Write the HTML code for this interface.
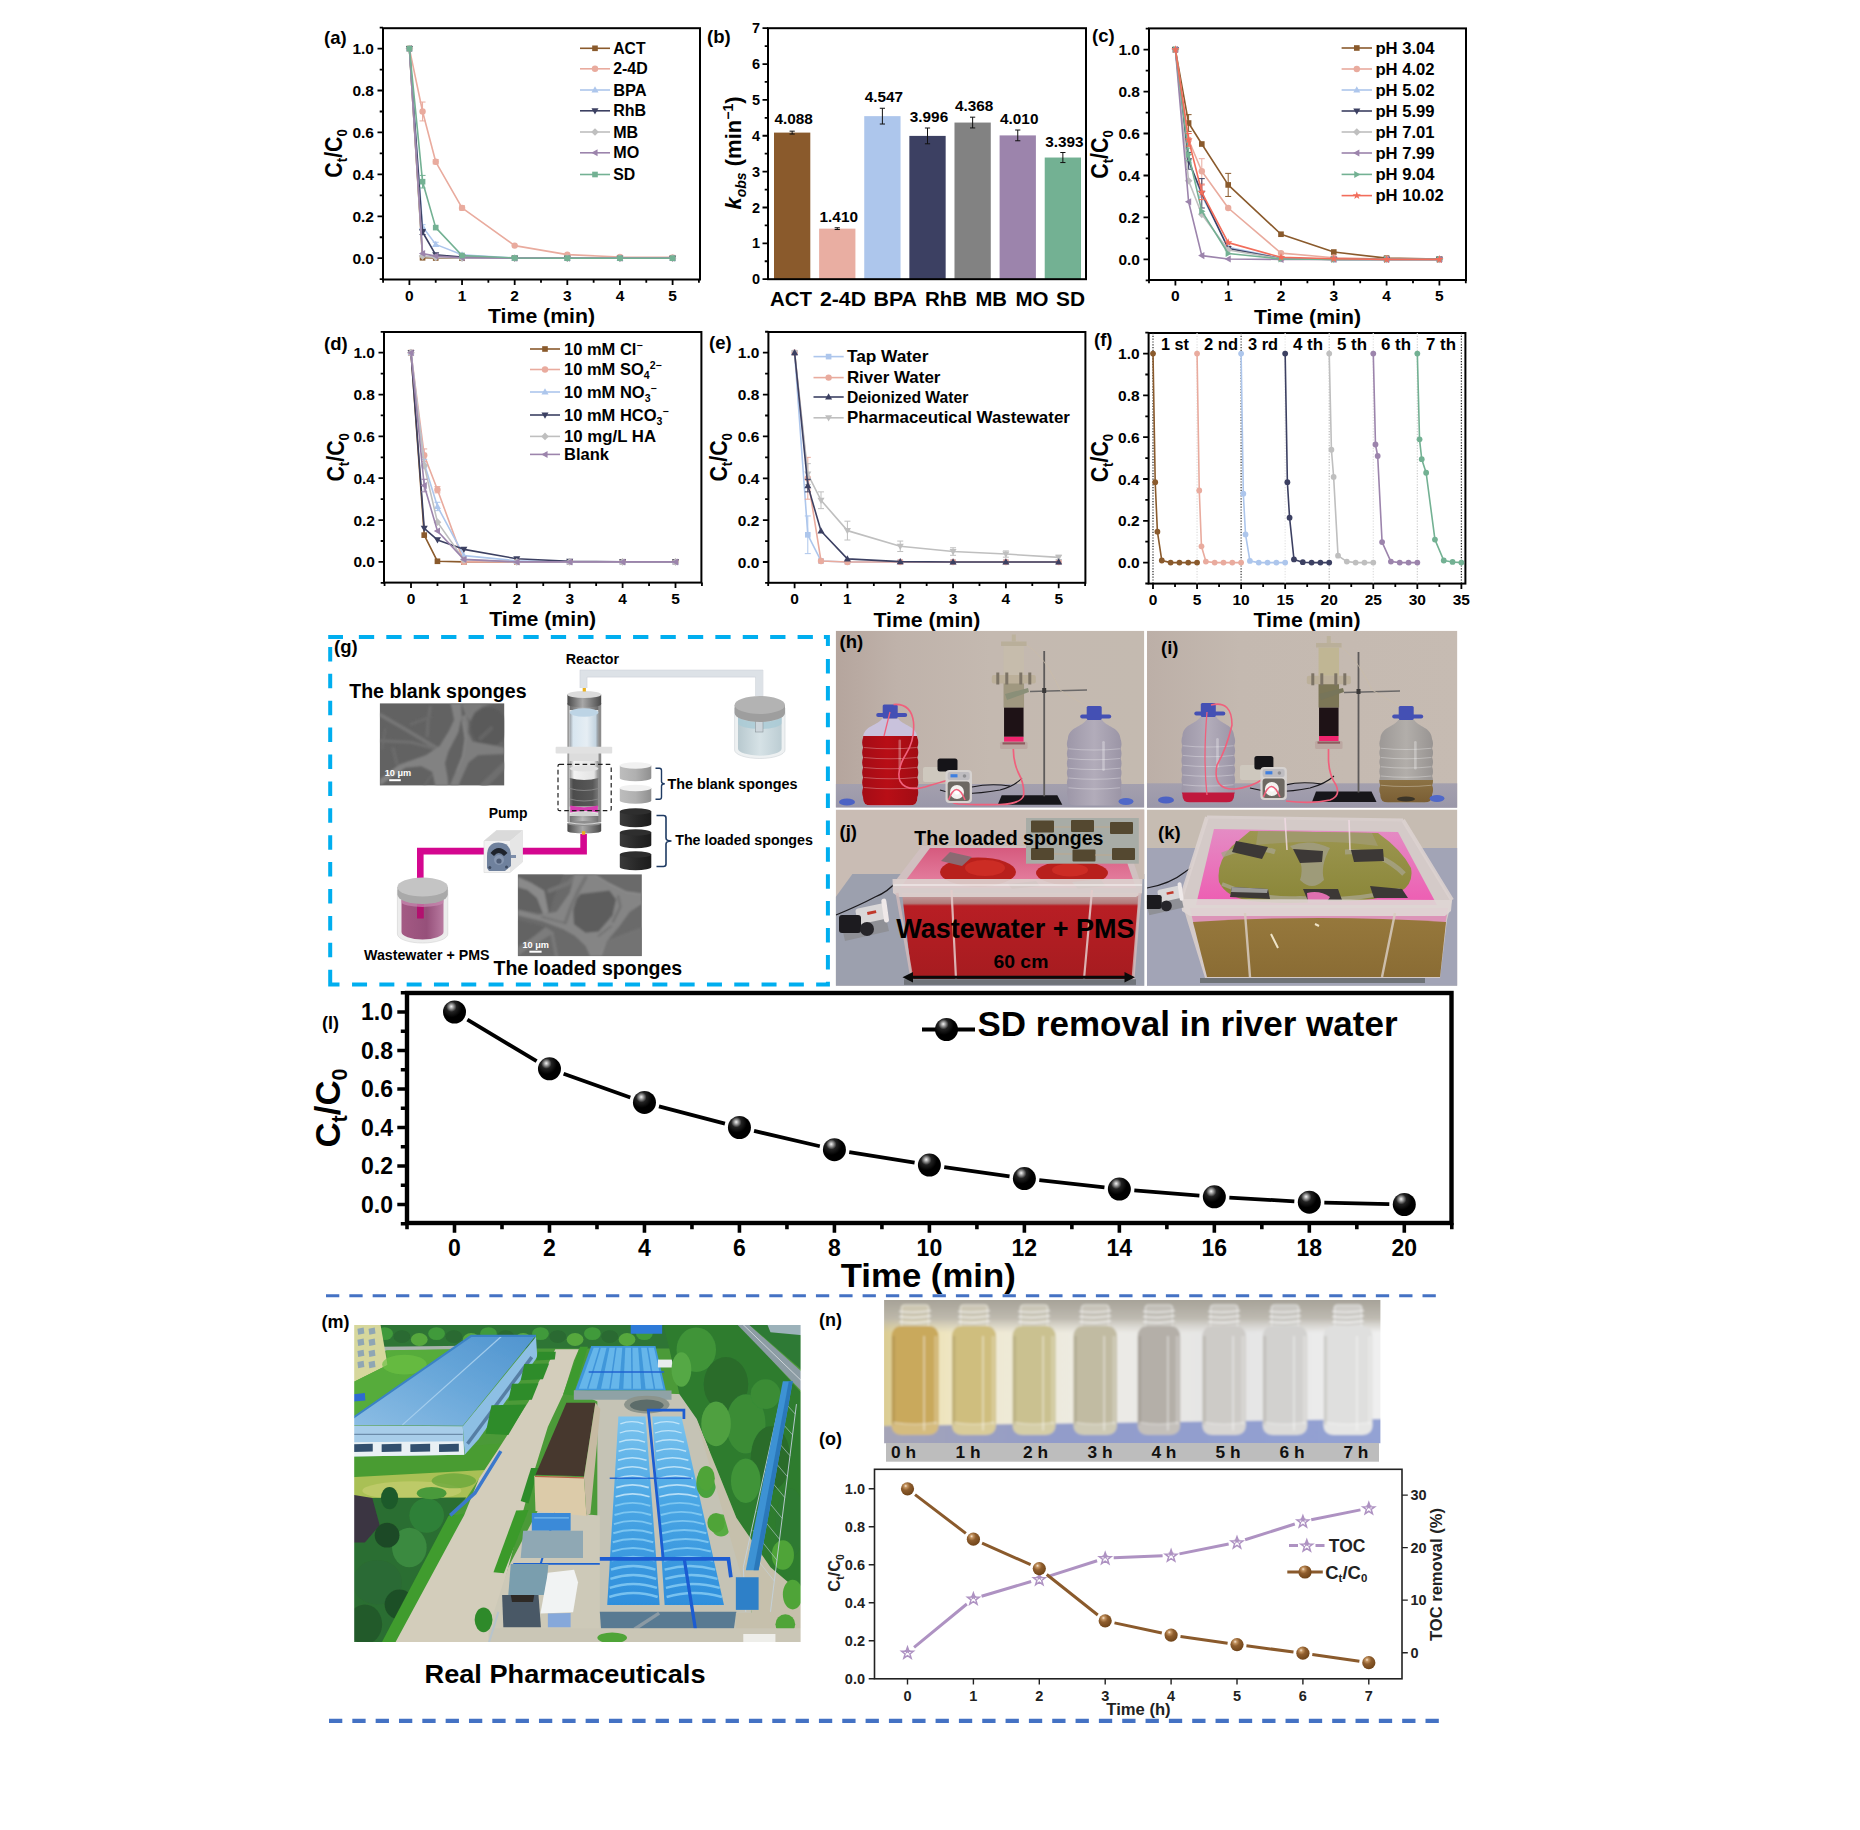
<!DOCTYPE html>
<html><head><meta charset="utf-8"><title>Figure</title>
<style>
html,body{margin:0;padding:0;background:#fff}
svg{display:block}
svg text{font-family:"Liberation Sans", Arial, sans-serif;font-weight:bold}
</style></head><body>
<svg xmlns="http://www.w3.org/2000/svg" width="1860" height="1830" viewBox="0 0 1860 1830">
<rect width="1860" height="1830" fill="#fff"/>
<rect x="383" y="28.2" width="317" height="251.3" fill="none" stroke="#000" stroke-width="2"/>
<path d="M409.4 279.5v5.5M462.04 279.5v5.5M514.68 279.5v5.5M567.32 279.5v5.5M619.96 279.5v5.5M672.6 279.5v5.5M383.08 279.5v3.3M435.72 279.5v3.3M488.36 279.5v3.3M541 279.5v3.3M593.64 279.5v3.3M646.28 279.5v3.3M698.92 279.5v3.3" stroke="#000" stroke-width="1.8" fill="none"/>
<g font-size="15.5" text-anchor="middle"><text x="409.4" y="300.8">0</text><text x="462.04" y="300.8">1</text><text x="514.68" y="300.8">2</text><text x="567.32" y="300.8">3</text><text x="619.96" y="300.8">4</text><text x="672.6" y="300.8">5</text></g>
<path d="M383 258.2h-5.5M383 216.28h-5.5M383 174.36h-5.5M383 132.44h-5.5M383 90.52h-5.5M383 48.6h-5.5M383 279.16h-3.3M383 237.24h-3.3M383 195.32h-3.3M383 153.4h-3.3M383 111.48h-3.3M383 69.56h-3.3M383 27.64h-3.3" stroke="#000" stroke-width="1.8" fill="none"/>
<g font-size="15.5" text-anchor="end"><text x="374" y="263.7">0.0</text><text x="374" y="221.78">0.2</text><text x="374" y="179.86">0.4</text><text x="374" y="137.94">0.6</text><text x="374" y="96.02">0.8</text><text x="374" y="54.1">1.0</text></g>
<text x="541.5" y="323.2" font-size="21" text-anchor="middle" textLength="107" lengthAdjust="spacingAndGlyphs">Time (min)</text>
<text x="0" y="0" font-size="23.5" text-anchor="middle" textLength="48.5" lengthAdjust="spacingAndGlyphs" transform="translate(341.5 153.4) rotate(-90)">C<tspan dy="5.17" font-size="14.57">t</tspan><tspan dy="-5.17">/C</tspan><tspan dy="5.17" font-size="14.57">0</tspan></text>
<polyline points="409.4,48.6 422.56,257.78 435.72,257.99 462.04,258.2 514.68,258.2 567.32,258.2 619.96,258.2 672.6,258.2" fill="none" stroke="#8A5A2C" stroke-width="1.6" stroke-linejoin="round"/><rect x="406.58" y="45.78" width="5.63" height="5.63" fill="#8A5A2C"/><rect x="419.74" y="254.96" width="5.63" height="5.63" fill="#8A5A2C"/><rect x="432.9" y="255.17" width="5.63" height="5.63" fill="#8A5A2C"/><rect x="459.22" y="255.38" width="5.63" height="5.63" fill="#8A5A2C"/><rect x="511.86" y="255.38" width="5.63" height="5.63" fill="#8A5A2C"/><rect x="564.5" y="255.38" width="5.63" height="5.63" fill="#8A5A2C"/><rect x="617.14" y="255.38" width="5.63" height="5.63" fill="#8A5A2C"/><rect x="669.78" y="255.38" width="5.63" height="5.63" fill="#8A5A2C"/>
<polyline points="409.4,48.6 422.56,111.48 435.72,161.78 462.04,207.9 514.68,245.62 567.32,254.64 619.96,256.94 672.6,257.36" fill="none" stroke="#E9AB9E" stroke-width="1.6" stroke-linejoin="round"/><path d="M422.56 102.05V120.91M419.56 102.05H425.56M419.56 120.91H425.56" stroke="#E9AB9E" stroke-width="1" fill="none"/><path d="M435.72 159.69V163.88M432.72 159.69H438.72M432.72 163.88H438.72" stroke="#E9AB9E" stroke-width="1" fill="none"/><path d="M462.04 205.8V209.99M459.04 205.8H465.04M459.04 209.99H465.04" stroke="#E9AB9E" stroke-width="1" fill="none"/><circle cx="409.4" cy="48.6" r="3.2" fill="#E9AB9E"/><circle cx="422.56" cy="111.48" r="3.2" fill="#E9AB9E"/><circle cx="435.72" cy="161.78" r="3.2" fill="#E9AB9E"/><circle cx="462.04" cy="207.9" r="3.2" fill="#E9AB9E"/><circle cx="514.68" cy="245.62" r="3.2" fill="#E9AB9E"/><circle cx="567.32" cy="254.64" r="3.2" fill="#E9AB9E"/><circle cx="619.96" cy="256.94" r="3.2" fill="#E9AB9E"/><circle cx="672.6" cy="257.36" r="3.2" fill="#E9AB9E"/>
<polyline points="409.4,48.6 422.56,226.76 435.72,244.37 462.04,254.85 514.68,258.2 567.32,258.2 619.96,258.2 672.6,258.2" fill="none" stroke="#ADC6EC" stroke-width="1.6" stroke-linejoin="round"/><path d="M422.56 224.66V228.86M419.56 224.66H425.56M419.56 228.86H425.56" stroke="#ADC6EC" stroke-width="1" fill="none"/><path d="M435.72 242.27V246.46M432.72 242.27H438.72M432.72 246.46H438.72" stroke="#ADC6EC" stroke-width="1" fill="none"/><polygon points="409.4,44.92 412.92,51.16 405.88,51.16" fill="#ADC6EC"/><polygon points="422.56,223.08 426.08,229.32 419.04,229.32" fill="#ADC6EC"/><polygon points="435.72,240.69 439.24,246.93 432.2,246.93" fill="#ADC6EC"/><polygon points="462.04,251.17 465.56,257.41 458.52,257.41" fill="#ADC6EC"/><polygon points="514.68,254.52 518.2,260.76 511.16,260.76" fill="#ADC6EC"/><polygon points="567.32,254.52 570.84,260.76 563.8,260.76" fill="#ADC6EC"/><polygon points="619.96,254.52 623.48,260.76 616.44,260.76" fill="#ADC6EC"/><polygon points="672.6,254.52 676.12,260.76 669.08,260.76" fill="#ADC6EC"/>
<polyline points="409.4,48.6 422.56,232 435.72,254.85 462.04,257.15 514.68,258.2 567.32,258.2 619.96,258.2 672.6,258.2" fill="none" stroke="#3C4062" stroke-width="1.6" stroke-linejoin="round"/><path d="M422.56 229.48V234.52M419.56 229.48H425.56M419.56 234.52H425.56" stroke="#3C4062" stroke-width="1" fill="none"/><polygon points="409.4,52.28 412.92,46.04 405.88,46.04" fill="#3C4062"/><polygon points="422.56,235.68 426.08,229.44 419.04,229.44" fill="#3C4062"/><polygon points="435.72,258.53 439.24,252.29 432.2,252.29" fill="#3C4062"/><polygon points="462.04,260.83 465.56,254.59 458.52,254.59" fill="#3C4062"/><polygon points="514.68,261.88 518.2,255.64 511.16,255.64" fill="#3C4062"/><polygon points="567.32,261.88 570.84,255.64 563.8,255.64" fill="#3C4062"/><polygon points="619.96,261.88 623.48,255.64 616.44,255.64" fill="#3C4062"/><polygon points="672.6,261.88 676.12,255.64 669.08,255.64" fill="#3C4062"/>
<polyline points="409.4,48.6 422.56,256.1 435.72,257.36 462.04,258.2 514.68,258.2 567.32,258.2 619.96,258.2 672.6,258.2" fill="none" stroke="#BFBFBF" stroke-width="1.6" stroke-linejoin="round"/><polygon points="409.4,44.76 413.24,48.6 409.4,52.44 405.56,48.6" fill="#BFBFBF"/><polygon points="422.56,252.26 426.4,256.1 422.56,259.94 418.72,256.1" fill="#BFBFBF"/><polygon points="435.72,253.52 439.56,257.36 435.72,261.2 431.88,257.36" fill="#BFBFBF"/><polygon points="462.04,254.36 465.88,258.2 462.04,262.04 458.2,258.2" fill="#BFBFBF"/><polygon points="514.68,254.36 518.52,258.2 514.68,262.04 510.84,258.2" fill="#BFBFBF"/><polygon points="567.32,254.36 571.16,258.2 567.32,262.04 563.48,258.2" fill="#BFBFBF"/><polygon points="619.96,254.36 623.8,258.2 619.96,262.04 616.12,258.2" fill="#BFBFBF"/><polygon points="672.6,254.36 676.44,258.2 672.6,262.04 668.76,258.2" fill="#BFBFBF"/>
<polyline points="409.4,48.6 422.56,253.59 435.72,256.1 462.04,257.78 514.68,258.2 567.32,258.2 619.96,258.2 672.6,258.2" fill="none" stroke="#9C84AC" stroke-width="1.6" stroke-linejoin="round"/><polygon points="405.72,48.6 411.96,45.08 411.96,52.12" fill="#9C84AC"/><polygon points="418.88,253.59 425.12,250.07 425.12,257.11" fill="#9C84AC"/><polygon points="432.04,256.1 438.28,252.58 438.28,259.62" fill="#9C84AC"/><polygon points="458.36,257.78 464.6,254.26 464.6,261.3" fill="#9C84AC"/><polygon points="511,258.2 517.24,254.68 517.24,261.72" fill="#9C84AC"/><polygon points="563.64,258.2 569.88,254.68 569.88,261.72" fill="#9C84AC"/><polygon points="616.28,258.2 622.52,254.68 622.52,261.72" fill="#9C84AC"/><polygon points="668.92,258.2 675.16,254.68 675.16,261.72" fill="#9C84AC"/>
<polyline points="409.4,48.6 422.56,181.7 435.72,227.6 462.04,255.48 514.68,257.99 567.32,258.2 619.96,258.2 672.6,258.2" fill="none" stroke="#73B193" stroke-width="1.6" stroke-linejoin="round"/><path d="M422.56 175.41V187.98M419.56 175.41H425.56M419.56 187.98H425.56" stroke="#73B193" stroke-width="1" fill="none"/><rect x="406.58" y="45.78" width="5.63" height="5.63" fill="#73B193"/><rect x="419.74" y="178.88" width="5.63" height="5.63" fill="#73B193"/><rect x="432.9" y="224.78" width="5.63" height="5.63" fill="#73B193"/><rect x="459.22" y="252.66" width="5.63" height="5.63" fill="#73B193"/><rect x="511.86" y="255.17" width="5.63" height="5.63" fill="#73B193"/><rect x="564.5" y="255.38" width="5.63" height="5.63" fill="#73B193"/><rect x="617.14" y="255.38" width="5.63" height="5.63" fill="#73B193"/><rect x="669.78" y="255.38" width="5.63" height="5.63" fill="#73B193"/>
<g font-size="16.5"><path d="M580 48.3H610" stroke="#8A5A2C" stroke-width="1.6"/><rect x="592.18" y="45.48" width="5.63" height="5.63" fill="#8A5A2C"/><text x="613.2" y="53.83" textLength="32.3" lengthAdjust="spacingAndGlyphs">ACT</text><path d="M580 68.8H610" stroke="#E9AB9E" stroke-width="1.6"/><circle cx="595" cy="68.8" r="3.2" fill="#E9AB9E"/><text x="613.2" y="74.33" textLength="34.5" lengthAdjust="spacingAndGlyphs">2-4D</text><path d="M580 90H610" stroke="#ADC6EC" stroke-width="1.6"/><polygon points="595,86.32 598.52,92.56 591.48,92.56" fill="#ADC6EC"/><text x="613.2" y="95.53" textLength="33.5" lengthAdjust="spacingAndGlyphs">BPA</text><path d="M580 110.8H610" stroke="#3C4062" stroke-width="1.6"/><polygon points="595,114.48 598.52,108.24 591.48,108.24" fill="#3C4062"/><text x="613.2" y="116.33" textLength="33" lengthAdjust="spacingAndGlyphs">RhB</text><path d="M580 132H610" stroke="#BFBFBF" stroke-width="1.6"/><polygon points="595,128.16 598.84,132 595,135.84 591.16,132" fill="#BFBFBF"/><text x="613.2" y="137.53" textLength="25" lengthAdjust="spacingAndGlyphs">MB</text><path d="M580 152.8H610" stroke="#9C84AC" stroke-width="1.6"/><polygon points="591.32,152.8 597.56,149.28 597.56,156.32" fill="#9C84AC"/><text x="613.2" y="158.33" textLength="26" lengthAdjust="spacingAndGlyphs">MO</text><path d="M580 174.5H610" stroke="#73B193" stroke-width="1.6"/><rect x="592.18" y="171.68" width="5.63" height="5.63" fill="#73B193"/><text x="613.2" y="180.03" textLength="22" lengthAdjust="spacingAndGlyphs">SD</text></g>
<text x="324" y="44" font-size="18.5">(a)</text>
<rect x="774" y="132.6" width="36.3" height="146.6" fill="#8A5A2C"/><path d="M792.15 131.17V134.04M789.55 131.17H794.75M789.55 134.04H794.75" stroke="#111" stroke-width="1" fill="none"/><text x="793.65" y="124.17" font-size="15" text-anchor="middle" textLength="38.4" lengthAdjust="spacingAndGlyphs">4.088</text><rect x="819.12" y="228.64" width="36.3" height="50.56" fill="#E9AEA2"/><path d="M837.27 227.74V229.53M834.67 227.74H839.87M834.67 229.53H839.87" stroke="#111" stroke-width="1" fill="none"/><text x="838.77" y="221.74" font-size="15" text-anchor="middle" textLength="38.4" lengthAdjust="spacingAndGlyphs">1.410</text><rect x="864.24" y="116.14" width="36.3" height="163.06" fill="#ADC6EC"/><path d="M882.39 108.26V124.03M879.79 108.26H884.99M879.79 124.03H884.99" stroke="#111" stroke-width="1" fill="none"/><text x="883.89" y="102.26" font-size="15" text-anchor="middle" textLength="38.4" lengthAdjust="spacingAndGlyphs">4.547</text><rect x="909.36" y="135.9" width="36.3" height="143.3" fill="#3C4062"/><path d="M927.51 128.01V143.79M924.91 128.01H930.11M924.91 143.79H930.11" stroke="#111" stroke-width="1" fill="none"/><text x="929.01" y="122.01" font-size="15" text-anchor="middle" textLength="38.4" lengthAdjust="spacingAndGlyphs">3.996</text><rect x="954.48" y="122.56" width="36.3" height="156.64" fill="#828282"/><path d="M972.63 117.18V127.94M970.03 117.18H975.23M970.03 127.94H975.23" stroke="#111" stroke-width="1" fill="none"/><text x="974.13" y="111.18" font-size="15" text-anchor="middle" textLength="38.4" lengthAdjust="spacingAndGlyphs">4.368</text><rect x="999.6" y="135.4" width="36.3" height="143.8" fill="#9C84AC"/><path d="M1017.75 130.02V140.78M1015.15 130.02H1020.35M1015.15 140.78H1020.35" stroke="#111" stroke-width="1" fill="none"/><text x="1019.25" y="124.02" font-size="15" text-anchor="middle" textLength="38.4" lengthAdjust="spacingAndGlyphs">4.010</text><rect x="1044.72" y="157.53" width="36.3" height="121.67" fill="#73B193"/><path d="M1062.87 152.51V162.55M1060.27 152.51H1065.47M1060.27 162.55H1065.47" stroke="#111" stroke-width="1" fill="none"/><text x="1064.37" y="146.51" font-size="15" text-anchor="middle" textLength="38.4" lengthAdjust="spacingAndGlyphs">3.393</text>
<rect x="768" y="28.2" width="318" height="251" fill="none" stroke="#000" stroke-width="2"/>
<path d="M768 279.2h-5.5M768 243.34h-5.5M768 207.48h-5.5M768 171.62h-5.5M768 135.76h-5.5M768 99.9h-5.5M768 64.04h-5.5M768 28.18h-5.5M768 261.27h-3.3M768 225.41h-3.3M768 189.55h-3.3M768 153.69h-3.3M768 117.83h-3.3M768 81.97h-3.3M768 46.11h-3.3" stroke="#000" stroke-width="1.8" fill="none"/>
<g font-size="14.5" text-anchor="end"><text x="760" y="284.35">0</text><text x="760" y="248.49">1</text><text x="760" y="212.63">2</text><text x="760" y="176.77">3</text><text x="760" y="140.91">4</text><text x="760" y="105.05">5</text><text x="760" y="69.19">6</text><text x="760" y="33.33">7</text></g>
<g font-size="20.5"><text x="770" y="305.6" textLength="42" lengthAdjust="spacingAndGlyphs">ACT</text><text x="820" y="305.6" textLength="46" lengthAdjust="spacingAndGlyphs">2-4D</text><text x="873.5" y="305.6" textLength="43.5" lengthAdjust="spacingAndGlyphs">BPA</text><text x="925" y="305.6" textLength="42" lengthAdjust="spacingAndGlyphs">RhB</text><text x="975.5" y="305.6" textLength="31.5" lengthAdjust="spacingAndGlyphs">MB</text><text x="1015.5" y="305.6" textLength="33" lengthAdjust="spacingAndGlyphs">MO</text><text x="1056" y="305.6" textLength="29" lengthAdjust="spacingAndGlyphs">SD</text></g>
<text x="0" y="0" font-size="22" text-anchor="middle" transform="translate(741 153) rotate(-90)"><tspan font-style="italic">k</tspan><tspan dy="5" font-size="14" font-style="italic">obs</tspan><tspan dy="-5"> (min</tspan><tspan dy="-8" font-size="14">−1</tspan><tspan dy="8">)</tspan></text>
<text x="707" y="43" font-size="18.5">(b)</text>
<rect x="1149" y="28.4" width="317" height="251.6" fill="none" stroke="#000" stroke-width="2"/>
<path d="M1175.4 280v5.5M1228.2 280v5.5M1281 280v5.5M1333.8 280v5.5M1386.6 280v5.5M1439.4 280v5.5M1149 280v3.3M1201.8 280v3.3M1254.6 280v3.3M1307.4 280v3.3M1360.2 280v3.3M1413 280v3.3M1465.8 280v3.3" stroke="#000" stroke-width="1.8" fill="none"/>
<g font-size="15.5" text-anchor="middle"><text x="1175.4" y="301.3">0</text><text x="1228.2" y="301.3">1</text><text x="1281" y="301.3">2</text><text x="1333.8" y="301.3">3</text><text x="1386.6" y="301.3">4</text><text x="1439.4" y="301.3">5</text></g>
<path d="M1149 259.4h-5.5M1149 217.44h-5.5M1149 175.48h-5.5M1149 133.52h-5.5M1149 91.56h-5.5M1149 49.6h-5.5M1149 280.38h-3.3M1149 238.42h-3.3M1149 196.46h-3.3M1149 154.5h-3.3M1149 112.54h-3.3M1149 70.58h-3.3M1149 28.62h-3.3" stroke="#000" stroke-width="1.8" fill="none"/>
<g font-size="15.5" text-anchor="end"><text x="1140" y="264.9">0.0</text><text x="1140" y="222.94">0.2</text><text x="1140" y="180.98">0.4</text><text x="1140" y="139.02">0.6</text><text x="1140" y="97.06">0.8</text><text x="1140" y="55.1">1.0</text></g>
<text x="1307.5" y="323.7" font-size="21" text-anchor="middle" textLength="107" lengthAdjust="spacingAndGlyphs">Time (min)</text>
<text x="0" y="0" font-size="23.5" text-anchor="middle" textLength="48.5" lengthAdjust="spacingAndGlyphs" transform="translate(1107.5 154.5) rotate(-90)">C<tspan dy="5.17" font-size="14.57">t</tspan><tspan dy="-5.17">/C</tspan><tspan dy="5.17" font-size="14.57">0</tspan></text>
<polyline points="1175.4,49.6 1188.6,123.03 1201.8,144.01 1228.2,184.92 1281,234.22 1333.8,252.06 1386.6,258.14 1439.4,258.98" fill="none" stroke="#8A5A2C" stroke-width="1.6" stroke-linejoin="round"/><path d="M1188.6 114.64V131.42M1185.6 114.64H1191.6M1185.6 131.42H1191.6" stroke="#8A5A2C" stroke-width="1" fill="none"/><path d="M1228.2 173.38V196.46M1225.2 173.38H1231.2M1225.2 196.46H1231.2" stroke="#8A5A2C" stroke-width="1" fill="none"/><rect x="1172.58" y="46.78" width="5.63" height="5.63" fill="#8A5A2C"/><rect x="1185.78" y="120.21" width="5.63" height="5.63" fill="#8A5A2C"/><rect x="1198.98" y="141.19" width="5.63" height="5.63" fill="#8A5A2C"/><rect x="1225.38" y="182.1" width="5.63" height="5.63" fill="#8A5A2C"/><rect x="1278.18" y="231.41" width="5.63" height="5.63" fill="#8A5A2C"/><rect x="1330.98" y="249.24" width="5.63" height="5.63" fill="#8A5A2C"/><rect x="1383.78" y="255.33" width="5.63" height="5.63" fill="#8A5A2C"/><rect x="1436.58" y="256.16" width="5.63" height="5.63" fill="#8A5A2C"/>
<polyline points="1175.4,49.6 1188.6,139.81 1201.8,171.28 1228.2,208 1281,253.11 1333.8,257.72 1386.6,258.98 1439.4,259.4" fill="none" stroke="#E9AB9E" stroke-width="1.6" stroke-linejoin="round"/><path d="M1188.6 133.52V146.11M1185.6 133.52H1191.6M1185.6 146.11H1191.6" stroke="#E9AB9E" stroke-width="1" fill="none"/><path d="M1201.8 158.7V183.87M1198.8 158.7H1204.8M1198.8 183.87H1204.8" stroke="#E9AB9E" stroke-width="1" fill="none"/><circle cx="1175.4" cy="49.6" r="3.2" fill="#E9AB9E"/><circle cx="1188.6" cy="139.81" r="3.2" fill="#E9AB9E"/><circle cx="1201.8" cy="171.28" r="3.2" fill="#E9AB9E"/><circle cx="1228.2" cy="208" r="3.2" fill="#E9AB9E"/><circle cx="1281" cy="253.11" r="3.2" fill="#E9AB9E"/><circle cx="1333.8" cy="257.72" r="3.2" fill="#E9AB9E"/><circle cx="1386.6" cy="258.98" r="3.2" fill="#E9AB9E"/><circle cx="1439.4" cy="259.4" r="3.2" fill="#E9AB9E"/>
<polyline points="1175.4,49.6 1188.6,160.79 1201.8,195.41 1228.2,247.23 1281,258.14 1333.8,259.4 1386.6,259.4 1439.4,259.4" fill="none" stroke="#ADC6EC" stroke-width="1.6" stroke-linejoin="round"/><path d="M1188.6 154.5V167.09M1185.6 154.5H1191.6M1185.6 167.09H1191.6" stroke="#ADC6EC" stroke-width="1" fill="none"/><polygon points="1175.4,45.92 1178.92,52.16 1171.88,52.16" fill="#ADC6EC"/><polygon points="1188.6,157.11 1192.12,163.35 1185.08,163.35" fill="#ADC6EC"/><polygon points="1201.8,191.73 1205.32,197.97 1198.28,197.97" fill="#ADC6EC"/><polygon points="1228.2,243.55 1231.72,249.79 1224.68,249.79" fill="#ADC6EC"/><polygon points="1281,254.46 1284.52,260.7 1277.48,260.7" fill="#ADC6EC"/><polygon points="1333.8,255.72 1337.32,261.96 1330.28,261.96" fill="#ADC6EC"/><polygon points="1386.6,255.72 1390.12,261.96 1383.08,261.96" fill="#ADC6EC"/><polygon points="1439.4,255.72 1442.92,261.96 1435.88,261.96" fill="#ADC6EC"/>
<polyline points="1175.4,49.6 1188.6,160.79 1201.8,193.31 1228.2,248.49 1281,258.56 1333.8,259.4 1386.6,259.4 1439.4,259.4" fill="none" stroke="#3C4062" stroke-width="1.6" stroke-linejoin="round"/><path d="M1188.6 152.4V169.19M1185.6 152.4H1191.6M1185.6 169.19H1191.6" stroke="#3C4062" stroke-width="1" fill="none"/><path d="M1201.8 178.63V208M1198.8 178.63H1204.8M1198.8 208H1204.8" stroke="#3C4062" stroke-width="1" fill="none"/><polygon points="1175.4,53.28 1178.92,47.04 1171.88,47.04" fill="#3C4062"/><polygon points="1188.6,164.47 1192.12,158.23 1185.08,158.23" fill="#3C4062"/><polygon points="1201.8,196.99 1205.32,190.75 1198.28,190.75" fill="#3C4062"/><polygon points="1228.2,252.17 1231.72,245.93 1224.68,245.93" fill="#3C4062"/><polygon points="1281,262.24 1284.52,256 1277.48,256" fill="#3C4062"/><polygon points="1333.8,263.08 1337.32,256.84 1330.28,256.84" fill="#3C4062"/><polygon points="1386.6,263.08 1390.12,256.84 1383.08,256.84" fill="#3C4062"/><polygon points="1439.4,263.08 1442.92,256.84 1435.88,256.84" fill="#3C4062"/>
<polyline points="1175.4,49.6 1188.6,180.72 1201.8,214.29 1228.2,249.96 1281,258.77 1333.8,259.4 1386.6,259.4 1439.4,259.4" fill="none" stroke="#BFBFBF" stroke-width="1.6" stroke-linejoin="round"/><polygon points="1175.4,45.76 1179.24,49.6 1175.4,53.44 1171.56,49.6" fill="#BFBFBF"/><polygon points="1188.6,176.88 1192.44,180.72 1188.6,184.56 1184.76,180.72" fill="#BFBFBF"/><polygon points="1201.8,210.45 1205.64,214.29 1201.8,218.13 1197.96,214.29" fill="#BFBFBF"/><polygon points="1228.2,246.12 1232.04,249.96 1228.2,253.8 1224.36,249.96" fill="#BFBFBF"/><polygon points="1281,254.93 1284.84,258.77 1281,262.61 1277.16,258.77" fill="#BFBFBF"/><polygon points="1333.8,255.56 1337.64,259.4 1333.8,263.24 1329.96,259.4" fill="#BFBFBF"/><polygon points="1386.6,255.56 1390.44,259.4 1386.6,263.24 1382.76,259.4" fill="#BFBFBF"/><polygon points="1439.4,255.56 1443.24,259.4 1439.4,263.24 1435.56,259.4" fill="#BFBFBF"/>
<polyline points="1175.4,49.6 1188.6,201.7 1201.8,255.62 1228.2,258.98 1281,259.4 1333.8,259.4 1386.6,259.4 1439.4,259.4" fill="none" stroke="#9C84AC" stroke-width="1.6" stroke-linejoin="round"/><polygon points="1171.72,49.6 1177.96,46.08 1177.96,53.12" fill="#9C84AC"/><polygon points="1184.92,201.7 1191.16,198.18 1191.16,205.22" fill="#9C84AC"/><polygon points="1198.12,255.62 1204.36,252.1 1204.36,259.14" fill="#9C84AC"/><polygon points="1224.52,258.98 1230.76,255.46 1230.76,262.5" fill="#9C84AC"/><polygon points="1277.32,259.4 1283.56,255.88 1283.56,262.92" fill="#9C84AC"/><polygon points="1330.12,259.4 1336.36,255.88 1336.36,262.92" fill="#9C84AC"/><polygon points="1382.92,259.4 1389.16,255.88 1389.16,262.92" fill="#9C84AC"/><polygon points="1435.72,259.4 1441.96,255.88 1441.96,262.92" fill="#9C84AC"/>
<polyline points="1175.4,49.6 1188.6,154.5 1201.8,211.15 1228.2,253.53 1281,258.98 1333.8,259.4 1386.6,259.4 1439.4,259.4" fill="none" stroke="#73B193" stroke-width="1.6" stroke-linejoin="round"/><path d="M1188.6 148.21V160.79M1185.6 148.21H1191.6M1185.6 160.79H1191.6" stroke="#73B193" stroke-width="1" fill="none"/><polygon points="1179.08,49.6 1172.84,46.08 1172.84,53.12" fill="#73B193"/><polygon points="1192.28,154.5 1186.04,150.98 1186.04,158.02" fill="#73B193"/><polygon points="1205.48,211.15 1199.24,207.63 1199.24,214.67" fill="#73B193"/><polygon points="1231.88,253.53 1225.64,250.01 1225.64,257.05" fill="#73B193"/><polygon points="1284.68,258.98 1278.44,255.46 1278.44,262.5" fill="#73B193"/><polygon points="1337.48,259.4 1331.24,255.88 1331.24,262.92" fill="#73B193"/><polygon points="1390.28,259.4 1384.04,255.88 1384.04,262.92" fill="#73B193"/><polygon points="1443.08,259.4 1436.84,255.88 1436.84,262.92" fill="#73B193"/>
<polyline points="1175.4,49.6 1188.6,139.81 1201.8,192.26 1228.2,242.62 1281,257.3 1333.8,258.77 1386.6,259.4 1439.4,259.4" fill="none" stroke="#F26D5B" stroke-width="1.6" stroke-linejoin="round"/><path d="M1188.6 133.52V146.11M1185.6 133.52H1191.6M1185.6 146.11H1191.6" stroke="#F26D5B" stroke-width="1" fill="none"/><path d="M1201.8 184.92V199.61M1198.8 184.92H1204.8M1198.8 199.61H1204.8" stroke="#F26D5B" stroke-width="1" fill="none"/><polygon points="1175.4,45.28 1176.43,48.18 1179.51,48.27 1177.07,50.14 1177.94,53.09 1175.4,51.36 1172.86,53.09 1173.73,50.14 1171.29,48.27 1174.37,48.18" fill="#F26D5B"/><polygon points="1188.6,135.49 1189.63,138.39 1192.71,138.48 1190.27,140.36 1191.14,143.31 1188.6,141.57 1186.06,143.31 1186.93,140.36 1184.49,138.48 1187.57,138.39" fill="#F26D5B"/><polygon points="1201.8,187.94 1202.83,190.84 1205.91,190.93 1203.47,192.81 1204.34,195.76 1201.8,194.02 1199.26,195.76 1200.13,192.81 1197.69,190.93 1200.77,190.84" fill="#F26D5B"/><polygon points="1228.2,238.3 1229.23,241.19 1232.31,241.28 1229.87,243.16 1230.74,246.11 1228.2,244.38 1225.66,246.11 1226.53,243.16 1224.09,241.28 1227.17,241.19" fill="#F26D5B"/><polygon points="1281,252.98 1282.03,255.88 1285.11,255.97 1282.67,257.85 1283.54,260.8 1281,259.06 1278.46,260.8 1279.33,257.85 1276.89,255.97 1279.97,255.88" fill="#F26D5B"/><polygon points="1333.8,254.45 1334.83,257.35 1337.91,257.44 1335.47,259.31 1336.34,262.27 1333.8,260.53 1331.26,262.27 1332.13,259.31 1329.69,257.44 1332.77,257.35" fill="#F26D5B"/><polygon points="1386.6,255.08 1387.63,257.98 1390.71,258.07 1388.27,259.94 1389.14,262.89 1386.6,261.16 1384.06,262.89 1384.93,259.94 1382.49,258.07 1385.57,257.98" fill="#F26D5B"/><polygon points="1439.4,255.08 1440.43,257.98 1443.51,258.07 1441.07,259.94 1441.94,262.89 1439.4,261.16 1436.86,262.89 1437.73,259.94 1435.29,258.07 1438.37,257.98" fill="#F26D5B"/>
<g font-size="16.5"><path d="M1341.6 48H1372" stroke="#8A5A2C" stroke-width="1.6"/><rect x="1353.98" y="45.18" width="5.63" height="5.63" fill="#8A5A2C"/><text x="1375.4" y="53.53" textLength="59.2" lengthAdjust="spacingAndGlyphs">pH 3.04</text><path d="M1341.6 69H1372" stroke="#E9AB9E" stroke-width="1.6"/><circle cx="1356.8" cy="69" r="3.2" fill="#E9AB9E"/><text x="1375.4" y="74.53" textLength="59.2" lengthAdjust="spacingAndGlyphs">pH 4.02</text><path d="M1341.6 90H1372" stroke="#ADC6EC" stroke-width="1.6"/><polygon points="1356.8,86.32 1360.32,92.56 1353.28,92.56" fill="#ADC6EC"/><text x="1375.4" y="95.53" textLength="59.2" lengthAdjust="spacingAndGlyphs">pH 5.02</text><path d="M1341.6 111H1372" stroke="#3C4062" stroke-width="1.6"/><polygon points="1356.8,114.68 1360.32,108.44 1353.28,108.44" fill="#3C4062"/><text x="1375.4" y="116.53" textLength="59.2" lengthAdjust="spacingAndGlyphs">pH 5.99</text><path d="M1341.6 132H1372" stroke="#BFBFBF" stroke-width="1.6"/><polygon points="1356.8,128.16 1360.64,132 1356.8,135.84 1352.96,132" fill="#BFBFBF"/><text x="1375.4" y="137.53" textLength="59.2" lengthAdjust="spacingAndGlyphs">pH 7.01</text><path d="M1341.6 153H1372" stroke="#9C84AC" stroke-width="1.6"/><polygon points="1353.12,153 1359.36,149.48 1359.36,156.52" fill="#9C84AC"/><text x="1375.4" y="158.53" textLength="59.2" lengthAdjust="spacingAndGlyphs">pH 7.99</text><path d="M1341.6 174.4H1372" stroke="#73B193" stroke-width="1.6"/><polygon points="1360.48,174.4 1354.24,170.88 1354.24,177.92" fill="#73B193"/><text x="1375.4" y="179.93" textLength="59.2" lengthAdjust="spacingAndGlyphs">pH 9.04</text><path d="M1341.6 195.6H1372" stroke="#F26D5B" stroke-width="1.6"/><polygon points="1356.8,191.28 1357.83,194.18 1360.91,194.27 1358.47,196.14 1359.34,199.09 1356.8,197.36 1354.26,199.09 1355.13,196.14 1352.69,194.27 1355.77,194.18" fill="#F26D5B"/><text x="1375.4" y="201.13" textLength="68.5" lengthAdjust="spacingAndGlyphs">pH 10.02</text></g>
<text x="1092" y="42" font-size="18.5">(c)</text>
<rect x="384" y="332" width="317.4" height="250.6" fill="none" stroke="#000" stroke-width="2"/>
<path d="M411 582.6v5.5M463.9 582.6v5.5M516.8 582.6v5.5M569.7 582.6v5.5M622.6 582.6v5.5M675.5 582.6v5.5M384.55 582.6v3.3M437.45 582.6v3.3M490.35 582.6v3.3M543.25 582.6v3.3M596.15 582.6v3.3M649.05 582.6v3.3M701.95 582.6v3.3" stroke="#000" stroke-width="1.8" fill="none"/>
<g font-size="15.5" text-anchor="middle"><text x="411" y="603.9">0</text><text x="463.9" y="603.9">1</text><text x="516.8" y="603.9">2</text><text x="569.7" y="603.9">3</text><text x="622.6" y="603.9">4</text><text x="675.5" y="603.9">5</text></g>
<path d="M384 561.9h-5.5M384 520.06h-5.5M384 478.22h-5.5M384 436.38h-5.5M384 394.54h-5.5M384 352.7h-5.5M384 582.82h-3.3M384 540.98h-3.3M384 499.14h-3.3M384 457.3h-3.3M384 415.46h-3.3M384 373.62h-3.3M384 331.78h-3.3" stroke="#000" stroke-width="1.8" fill="none"/>
<g font-size="15.5" text-anchor="end"><text x="375" y="567.4">0.0</text><text x="375" y="525.56">0.2</text><text x="375" y="483.72">0.4</text><text x="375" y="441.88">0.6</text><text x="375" y="400.04">0.8</text><text x="375" y="358.2">1.0</text></g>
<text x="542.7" y="626.3" font-size="21" text-anchor="middle" textLength="107" lengthAdjust="spacingAndGlyphs">Time (min)</text>
<text x="0" y="0" font-size="23.5" text-anchor="middle" textLength="48.5" lengthAdjust="spacingAndGlyphs" transform="translate(343.5 457.3) rotate(-90)">C<tspan dy="5.17" font-size="14.57">t</tspan><tspan dy="-5.17">/C</tspan><tspan dy="5.17" font-size="14.57">0</tspan></text>
<polyline points="411,352.7 424.23,535.12 437.45,561.27 463.9,561.9 516.8,561.9 569.7,561.9 622.6,561.9 675.5,561.9" fill="none" stroke="#8A5A2C" stroke-width="1.6" stroke-linejoin="round"/><rect x="408.18" y="349.88" width="5.63" height="5.63" fill="#8A5A2C"/><rect x="421.41" y="532.31" width="5.63" height="5.63" fill="#8A5A2C"/><rect x="434.63" y="558.46" width="5.63" height="5.63" fill="#8A5A2C"/><rect x="461.08" y="559.08" width="5.63" height="5.63" fill="#8A5A2C"/><rect x="513.98" y="559.08" width="5.63" height="5.63" fill="#8A5A2C"/><rect x="566.88" y="559.08" width="5.63" height="5.63" fill="#8A5A2C"/><rect x="619.78" y="559.08" width="5.63" height="5.63" fill="#8A5A2C"/><rect x="672.68" y="559.08" width="5.63" height="5.63" fill="#8A5A2C"/>
<polyline points="411,352.7 424.23,455.21 437.45,489.73 463.9,561.9 516.8,561.9 569.7,561.9 622.6,561.9 675.5,561.9" fill="none" stroke="#E9AB9E" stroke-width="1.6" stroke-linejoin="round"/><path d="M424.23 448.93V461.48M421.23 448.93H427.23M421.23 461.48H427.23" stroke="#E9AB9E" stroke-width="1" fill="none"/><path d="M437.45 486.59V492.86M434.45 486.59H440.45M434.45 492.86H440.45" stroke="#E9AB9E" stroke-width="1" fill="none"/><circle cx="411" cy="352.7" r="3.2" fill="#E9AB9E"/><circle cx="424.23" cy="455.21" r="3.2" fill="#E9AB9E"/><circle cx="437.45" cy="489.73" r="3.2" fill="#E9AB9E"/><circle cx="463.9" cy="561.9" r="3.2" fill="#E9AB9E"/><circle cx="516.8" cy="561.9" r="3.2" fill="#E9AB9E"/><circle cx="569.7" cy="561.9" r="3.2" fill="#E9AB9E"/><circle cx="622.6" cy="561.9" r="3.2" fill="#E9AB9E"/><circle cx="675.5" cy="561.9" r="3.2" fill="#E9AB9E"/>
<polyline points="411,352.7 424.23,463.58 437.45,506.46 463.9,555.62 516.8,560.85 569.7,561.9 622.6,561.9 675.5,561.9" fill="none" stroke="#ADC6EC" stroke-width="1.6" stroke-linejoin="round"/><path d="M424.23 459.39V467.76M421.23 459.39H427.23M421.23 467.76H427.23" stroke="#ADC6EC" stroke-width="1" fill="none"/><path d="M437.45 502.28V510.65M434.45 502.28H440.45M434.45 510.65H440.45" stroke="#ADC6EC" stroke-width="1" fill="none"/><polygon points="411,349.02 414.52,355.26 407.48,355.26" fill="#ADC6EC"/><polygon points="424.23,459.9 427.75,466.14 420.71,466.14" fill="#ADC6EC"/><polygon points="437.45,502.78 440.97,509.02 433.93,509.02" fill="#ADC6EC"/><polygon points="463.9,551.94 467.42,558.18 460.38,558.18" fill="#ADC6EC"/><polygon points="516.8,557.17 520.32,563.41 513.28,563.41" fill="#ADC6EC"/><polygon points="569.7,558.22 573.22,564.46 566.18,564.46" fill="#ADC6EC"/><polygon points="622.6,558.22 626.12,564.46 619.08,564.46" fill="#ADC6EC"/><polygon points="675.5,558.22 679.02,564.46 671.98,564.46" fill="#ADC6EC"/>
<polyline points="411,352.7 424.23,528.43 437.45,539.93 463.9,549.35 516.8,558.76 569.7,561.27 622.6,561.69 675.5,561.9" fill="none" stroke="#3C4062" stroke-width="1.6" stroke-linejoin="round"/><polygon points="411,356.38 414.52,350.14 407.48,350.14" fill="#3C4062"/><polygon points="424.23,532.11 427.75,525.87 420.71,525.87" fill="#3C4062"/><polygon points="437.45,543.61 440.97,537.37 433.93,537.37" fill="#3C4062"/><polygon points="463.9,553.03 467.42,546.79 460.38,546.79" fill="#3C4062"/><polygon points="516.8,562.44 520.32,556.2 513.28,556.2" fill="#3C4062"/><polygon points="569.7,564.95 573.22,558.71 566.18,558.71" fill="#3C4062"/><polygon points="622.6,565.37 626.12,559.13 619.08,559.13" fill="#3C4062"/><polygon points="675.5,565.58 679.02,559.34 671.98,559.34" fill="#3C4062"/>
<polyline points="411,352.7 424.23,465.67 437.45,522.15 463.9,559.81 516.8,561.9 569.7,561.9 622.6,561.9 675.5,561.9" fill="none" stroke="#BFBFBF" stroke-width="1.6" stroke-linejoin="round"/><polygon points="411,348.86 414.84,352.7 411,356.54 407.16,352.7" fill="#BFBFBF"/><polygon points="424.23,461.83 428.06,465.67 424.23,469.51 420.39,465.67" fill="#BFBFBF"/><polygon points="437.45,518.31 441.29,522.15 437.45,525.99 433.61,522.15" fill="#BFBFBF"/><polygon points="463.9,555.97 467.74,559.81 463.9,563.65 460.06,559.81" fill="#BFBFBF"/><polygon points="516.8,558.06 520.64,561.9 516.8,565.74 512.96,561.9" fill="#BFBFBF"/><polygon points="569.7,558.06 573.54,561.9 569.7,565.74 565.86,561.9" fill="#BFBFBF"/><polygon points="622.6,558.06 626.44,561.9 622.6,565.74 618.76,561.9" fill="#BFBFBF"/><polygon points="675.5,558.06 679.34,561.9 675.5,565.74 671.66,561.9" fill="#BFBFBF"/>
<polyline points="411,352.7 424.23,485.54 437.45,530.94 463.9,559.39 516.8,561.9 569.7,561.9 622.6,561.9 675.5,561.9" fill="none" stroke="#9C84AC" stroke-width="1.6" stroke-linejoin="round"/><path d="M424.23 479.27V491.82M421.23 479.27H427.23M421.23 491.82H427.23" stroke="#9C84AC" stroke-width="1" fill="none"/><polygon points="407.32,352.7 413.56,349.18 413.56,356.22" fill="#9C84AC"/><polygon points="420.55,485.54 426.79,482.02 426.79,489.06" fill="#9C84AC"/><polygon points="433.77,530.94 440.01,527.42 440.01,534.46" fill="#9C84AC"/><polygon points="460.22,559.39 466.46,555.87 466.46,562.91" fill="#9C84AC"/><polygon points="513.12,561.9 519.36,558.38 519.36,565.42" fill="#9C84AC"/><polygon points="566.02,561.9 572.26,558.38 572.26,565.42" fill="#9C84AC"/><polygon points="618.92,561.9 625.16,558.38 625.16,565.42" fill="#9C84AC"/><polygon points="671.82,561.9 678.06,558.38 678.06,565.42" fill="#9C84AC"/>
<g font-size="16.5"><path d="M530 349H560" stroke="#8A5A2C" stroke-width="1.6"/><rect x="542.18" y="346.18" width="5.63" height="5.63" fill="#8A5A2C"/><text x="564" y="354.53">10 mM Cl<tspan dy="-6" font-size="10.5">−</tspan><tspan dy="6" font-size="1"> </tspan></text><path d="M530 369.5H560" stroke="#E9AB9E" stroke-width="1.6"/><circle cx="545" cy="369.5" r="3.2" fill="#E9AB9E"/><text x="564" y="375.03">10 mM SO<tspan dy="4" font-size="10.5">4</tspan><tspan dy="-10" font-size="10.5">2−</tspan><tspan dy="6" font-size="1"> </tspan></text><path d="M530 392H560" stroke="#ADC6EC" stroke-width="1.6"/><polygon points="545,388.32 548.52,394.56 541.48,394.56" fill="#ADC6EC"/><text x="564" y="397.53">10 mM NO<tspan dy="4" font-size="10.5">3</tspan><tspan dy="-10" font-size="10.5">−</tspan><tspan dy="6" font-size="1"> </tspan></text><path d="M530 415H560" stroke="#3C4062" stroke-width="1.6"/><polygon points="545,418.68 548.52,412.44 541.48,412.44" fill="#3C4062"/><text x="564" y="420.53">10 mM HCO<tspan dy="4" font-size="10.5">3</tspan><tspan dy="-10" font-size="10.5">−</tspan><tspan dy="6" font-size="1"> </tspan></text><path d="M530 436.4H560" stroke="#BFBFBF" stroke-width="1.6"/><polygon points="545,432.56 548.84,436.4 545,440.24 541.16,436.4" fill="#BFBFBF"/><text x="564" y="441.93" textLength="92" lengthAdjust="spacingAndGlyphs">10 mg/L HA</text><path d="M530 454.4H560" stroke="#9C84AC" stroke-width="1.6"/><polygon points="541.32,454.4 547.56,450.88 547.56,457.92" fill="#9C84AC"/><text x="564" y="459.93" textLength="45" lengthAdjust="spacingAndGlyphs">Blank</text></g>
<text x="324" y="350" font-size="18.5">(d)</text>
<rect x="768.4" y="332" width="317" height="250.8" fill="none" stroke="#000" stroke-width="2"/>
<path d="M794.6 582.8v5.5M847.42 582.8v5.5M900.24 582.8v5.5M953.06 582.8v5.5M1005.88 582.8v5.5M1058.7 582.8v5.5M768.19 582.8v3.3M821.01 582.8v3.3M873.83 582.8v3.3M926.65 582.8v3.3M979.47 582.8v3.3M1032.29 582.8v3.3M1085.11 582.8v3.3" stroke="#000" stroke-width="1.8" fill="none"/>
<g font-size="15.5" text-anchor="middle"><text x="794.6" y="604.1">0</text><text x="847.42" y="604.1">1</text><text x="900.24" y="604.1">2</text><text x="953.06" y="604.1">3</text><text x="1005.88" y="604.1">4</text><text x="1058.7" y="604.1">5</text></g>
<path d="M768.4 562h-5.5M768.4 520.14h-5.5M768.4 478.28h-5.5M768.4 436.42h-5.5M768.4 394.56h-5.5M768.4 352.7h-5.5M768.4 582.93h-3.3M768.4 541.07h-3.3M768.4 499.21h-3.3M768.4 457.35h-3.3M768.4 415.49h-3.3M768.4 373.63h-3.3M768.4 331.77h-3.3" stroke="#000" stroke-width="1.8" fill="none"/>
<g font-size="15.5" text-anchor="end"><text x="759.4" y="567.5">0.0</text><text x="759.4" y="525.64">0.2</text><text x="759.4" y="483.78">0.4</text><text x="759.4" y="441.92">0.6</text><text x="759.4" y="400.06">0.8</text><text x="759.4" y="358.2">1.0</text></g>
<text x="926.9" y="626.5" font-size="21" text-anchor="middle" textLength="107" lengthAdjust="spacingAndGlyphs">Time (min)</text>
<text x="0" y="0" font-size="23.5" text-anchor="middle" textLength="48.5" lengthAdjust="spacingAndGlyphs" transform="translate(726.5 457.35) rotate(-90)">C<tspan dy="5.17" font-size="14.57">t</tspan><tspan dy="-5.17">/C</tspan><tspan dy="5.17" font-size="14.57">0</tspan></text>
<polyline points="794.6,352.7 807.81,534.79 821.01,560.95 847.42,562 900.24,562 953.06,562 1005.88,562 1058.7,562" fill="none" stroke="#ADC6EC" stroke-width="1.6" stroke-linejoin="round"/><path d="M807.81 515.95V553.63M804.81 515.95H810.81M804.81 553.63H810.81" stroke="#ADC6EC" stroke-width="1" fill="none"/><rect x="791.78" y="349.88" width="5.63" height="5.63" fill="#ADC6EC"/><rect x="804.99" y="531.97" width="5.63" height="5.63" fill="#ADC6EC"/><rect x="818.19" y="558.14" width="5.63" height="5.63" fill="#ADC6EC"/><rect x="844.6" y="559.18" width="5.63" height="5.63" fill="#ADC6EC"/><rect x="897.42" y="559.18" width="5.63" height="5.63" fill="#ADC6EC"/><rect x="950.24" y="559.18" width="5.63" height="5.63" fill="#ADC6EC"/><rect x="1003.06" y="559.18" width="5.63" height="5.63" fill="#ADC6EC"/><rect x="1055.88" y="559.18" width="5.63" height="5.63" fill="#ADC6EC"/>
<polyline points="794.6,352.7 807.81,478.28 821.01,560.95 847.42,562 900.24,562 953.06,562 1005.88,562 1058.7,562" fill="none" stroke="#E9AB9E" stroke-width="1.6" stroke-linejoin="round"/><path d="M807.81 457.35V499.21M804.81 457.35H810.81M804.81 499.21H810.81" stroke="#E9AB9E" stroke-width="1" fill="none"/><circle cx="794.6" cy="352.7" r="3.2" fill="#E9AB9E"/><circle cx="807.81" cy="478.28" r="3.2" fill="#E9AB9E"/><circle cx="821.01" cy="560.95" r="3.2" fill="#E9AB9E"/><circle cx="847.42" cy="562" r="3.2" fill="#E9AB9E"/><circle cx="900.24" cy="562" r="3.2" fill="#E9AB9E"/><circle cx="953.06" cy="562" r="3.2" fill="#E9AB9E"/><circle cx="1005.88" cy="562" r="3.2" fill="#E9AB9E"/><circle cx="1058.7" cy="562" r="3.2" fill="#E9AB9E"/>
<polyline points="794.6,352.7 807.81,474.09 821.01,500.26 847.42,530.61 900.24,546.3 953.06,551.53 1005.88,554.05 1058.7,557.4" fill="none" stroke="#BFBFBF" stroke-width="1.6" stroke-linejoin="round"/><path d="M807.81 463.63V484.56M804.81 463.63H810.81M804.81 484.56H810.81" stroke="#BFBFBF" stroke-width="1" fill="none"/><path d="M821.01 491.88V508.63M818.01 491.88H824.01M818.01 508.63H824.01" stroke="#BFBFBF" stroke-width="1" fill="none"/><path d="M847.42 521.19V540.02M844.42 521.19H850.42M844.42 540.02H850.42" stroke="#BFBFBF" stroke-width="1" fill="none"/><path d="M900.24 541.07V551.53M897.24 541.07H903.24M897.24 551.53H903.24" stroke="#BFBFBF" stroke-width="1" fill="none"/><path d="M953.06 547.77V555.3M950.06 547.77H956.06M950.06 555.3H956.06" stroke="#BFBFBF" stroke-width="1" fill="none"/><path d="M1005.88 550.91V557.19M1002.88 550.91H1008.88M1002.88 557.19H1008.88" stroke="#BFBFBF" stroke-width="1" fill="none"/><path d="M1058.7 555.3V559.49M1055.7 555.3H1061.7M1055.7 559.49H1061.7" stroke="#BFBFBF" stroke-width="1" fill="none"/><polygon points="794.6,356.38 798.12,350.14 791.08,350.14" fill="#BFBFBF"/><polygon points="807.81,477.77 811.33,471.53 804.29,471.53" fill="#BFBFBF"/><polygon points="821.01,503.94 824.53,497.7 817.49,497.7" fill="#BFBFBF"/><polygon points="847.42,534.28 850.94,528.05 843.9,528.05" fill="#BFBFBF"/><polygon points="900.24,549.98 903.76,543.74 896.72,543.74" fill="#BFBFBF"/><polygon points="953.06,555.21 956.58,548.98 949.54,548.98" fill="#BFBFBF"/><polygon points="1005.88,557.73 1009.4,551.49 1002.36,551.49" fill="#BFBFBF"/><polygon points="1058.7,561.08 1062.22,554.84 1055.18,554.84" fill="#BFBFBF"/>
<polyline points="794.6,352.7 807.81,485.61 821.01,531.02 847.42,558.86 900.24,561.58 953.06,562 1005.88,562 1058.7,562" fill="none" stroke="#3C4062" stroke-width="1.6" stroke-linejoin="round"/><path d="M807.81 479.33V491.88M804.81 479.33H810.81M804.81 491.88H810.81" stroke="#3C4062" stroke-width="1" fill="none"/><polygon points="794.6,349.02 798.12,355.26 791.08,355.26" fill="#3C4062"/><polygon points="807.81,481.93 811.33,488.17 804.29,488.17" fill="#3C4062"/><polygon points="821.01,527.34 824.53,533.58 817.49,533.58" fill="#3C4062"/><polygon points="847.42,555.18 850.94,561.42 843.9,561.42" fill="#3C4062"/><polygon points="900.24,557.9 903.76,564.14 896.72,564.14" fill="#3C4062"/><polygon points="953.06,558.32 956.58,564.56 949.54,564.56" fill="#3C4062"/><polygon points="1005.88,558.32 1009.4,564.56 1002.36,564.56" fill="#3C4062"/><polygon points="1058.7,558.32 1062.22,564.56 1055.18,564.56" fill="#3C4062"/>
<g font-size="16.5"><path d="M813.5 356.6H843.7" stroke="#ADC6EC" stroke-width="1.6"/><rect x="825.78" y="353.78" width="5.63" height="5.63" fill="#ADC6EC"/><text x="846.9" y="362.13" textLength="81.5" lengthAdjust="spacingAndGlyphs">Tap Water</text><path d="M813.5 377.6H843.7" stroke="#E9AB9E" stroke-width="1.6"/><circle cx="828.6" cy="377.6" r="3.2" fill="#E9AB9E"/><text x="846.9" y="383.13" textLength="93.5" lengthAdjust="spacingAndGlyphs">River Water</text><path d="M813.5 397H843.7" stroke="#3C4062" stroke-width="1.6"/><polygon points="828.6,393.32 832.12,399.56 825.08,399.56" fill="#3C4062"/><text x="846.9" y="402.53" textLength="121.5" lengthAdjust="spacingAndGlyphs">Deionized Water</text><path d="M813.5 417.8H843.7" stroke="#BFBFBF" stroke-width="1.6"/><polygon points="828.6,421.48 832.12,415.24 825.08,415.24" fill="#BFBFBF"/><text x="846.9" y="423.33" textLength="223" lengthAdjust="spacingAndGlyphs">Pharmaceutical Wastewater</text></g>
<text x="709" y="349" font-size="18.5">(e)</text>
<rect x="1148.6" y="333" width="316.8" height="250.6" fill="none" stroke="#000" stroke-width="2"/>
<path d="M1153 333V583.6" stroke="#222" stroke-width="1.2" stroke-dasharray="1.2 1.6"/><path d="M1197.06 333V583.6" stroke="#ddd" stroke-width="1.2" stroke-dasharray="1.2 1.6"/><path d="M1241.11 333V583.6" stroke="#333" stroke-width="1.2" stroke-dasharray="1.2 1.6"/><path d="M1285.16 333V583.6" stroke="#e4e4e4" stroke-width="1.2" stroke-dasharray="1.2 1.6"/><path d="M1329.22 333V583.6" stroke="#bbb" stroke-width="1.2" stroke-dasharray="1.2 1.6"/><path d="M1373.28 333V583.6" stroke="#ddd" stroke-width="1.2" stroke-dasharray="1.2 1.6"/><path d="M1417.33 333V583.6" stroke="#ccc" stroke-width="1.2" stroke-dasharray="1.2 1.6"/><path d="M1461.38 333V583.6" stroke="#222" stroke-width="1.2" stroke-dasharray="1.2 1.6"/>
<path d="M1153 583.6v5.5M1197.06 583.6v5.5M1241.11 583.6v5.5M1285.16 583.6v5.5M1329.22 583.6v5.5M1373.28 583.6v5.5M1417.33 583.6v5.5M1461.38 583.6v5.5M1175.03 583.6v3.3M1219.08 583.6v3.3M1263.14 583.6v3.3M1307.19 583.6v3.3M1351.25 583.6v3.3M1395.3 583.6v3.3M1439.36 583.6v3.3" stroke="#000" stroke-width="1.8" fill="none"/>
<g font-size="15.5" text-anchor="middle"><text x="1153" y="604.9">0</text><text x="1197.06" y="604.9">5</text><text x="1241.11" y="604.9">10</text><text x="1285.16" y="604.9">15</text><text x="1329.22" y="604.9">20</text><text x="1373.28" y="604.9">25</text><text x="1417.33" y="604.9">30</text><text x="1461.38" y="604.9">35</text></g>
<path d="M1148.6 562.6h-5.5M1148.6 520.8h-5.5M1148.6 479h-5.5M1148.6 437.2h-5.5M1148.6 395.4h-5.5M1148.6 353.6h-5.5M1148.6 583.5h-3.3M1148.6 541.7h-3.3M1148.6 499.9h-3.3M1148.6 458.1h-3.3M1148.6 416.3h-3.3M1148.6 374.5h-3.3M1148.6 332.7h-3.3" stroke="#000" stroke-width="1.8" fill="none"/>
<g font-size="15.5" text-anchor="end"><text x="1139.6" y="568.1">0.0</text><text x="1139.6" y="526.3">0.2</text><text x="1139.6" y="484.5">0.4</text><text x="1139.6" y="442.7">0.6</text><text x="1139.6" y="400.9">0.8</text><text x="1139.6" y="359.1">1.0</text></g>
<text x="1307" y="627.1" font-size="21" text-anchor="middle" textLength="107" lengthAdjust="spacingAndGlyphs">Time (min)</text>
<text x="0" y="0" font-size="23.5" text-anchor="middle" textLength="48.5" lengthAdjust="spacingAndGlyphs" transform="translate(1107.5 458.1) rotate(-90)">C<tspan dy="5.17" font-size="14.57">t</tspan><tspan dy="-5.17">/C</tspan><tspan dy="5.17" font-size="14.57">0</tspan></text>
<polyline points="1153,353.6 1155.2,482.13 1157.41,531.67 1161.81,560.51 1170.62,562.6 1179.43,562.6 1188.24,562.6 1197.06,562.6" fill="none" stroke="#8A5A2C" stroke-width="1.6" stroke-linejoin="round"/><circle cx="1153" cy="353.6" r="2.9" fill="#8A5A2C"/><circle cx="1155.2" cy="482.13" r="2.9" fill="#8A5A2C"/><circle cx="1157.41" cy="531.67" r="2.9" fill="#8A5A2C"/><circle cx="1161.81" cy="560.51" r="2.9" fill="#8A5A2C"/><circle cx="1170.62" cy="562.6" r="2.9" fill="#8A5A2C"/><circle cx="1179.43" cy="562.6" r="2.9" fill="#8A5A2C"/><circle cx="1188.24" cy="562.6" r="2.9" fill="#8A5A2C"/><circle cx="1197.06" cy="562.6" r="2.9" fill="#8A5A2C"/>
<polyline points="1197.06,353.6 1199.26,490.5 1201.46,546.3 1205.87,561.56 1214.68,562.6 1223.49,562.6 1232.3,562.6 1241.11,562.6" fill="none" stroke="#E9AB9E" stroke-width="1.6" stroke-linejoin="round"/><circle cx="1197.06" cy="353.6" r="2.9" fill="#E9AB9E"/><circle cx="1199.26" cy="490.5" r="2.9" fill="#E9AB9E"/><circle cx="1201.46" cy="546.3" r="2.9" fill="#E9AB9E"/><circle cx="1205.87" cy="561.56" r="2.9" fill="#E9AB9E"/><circle cx="1214.68" cy="562.6" r="2.9" fill="#E9AB9E"/><circle cx="1223.49" cy="562.6" r="2.9" fill="#E9AB9E"/><circle cx="1232.3" cy="562.6" r="2.9" fill="#E9AB9E"/><circle cx="1241.11" cy="562.6" r="2.9" fill="#E9AB9E"/>
<polyline points="1241.11,353.6 1243.31,493.63 1245.52,534.38 1249.92,560.93 1258.73,562.6 1267.54,562.6 1276.35,562.6 1285.16,562.6" fill="none" stroke="#ADC6EC" stroke-width="1.6" stroke-linejoin="round"/><circle cx="1241.11" cy="353.6" r="2.9" fill="#ADC6EC"/><circle cx="1243.31" cy="493.63" r="2.9" fill="#ADC6EC"/><circle cx="1245.52" cy="534.38" r="2.9" fill="#ADC6EC"/><circle cx="1249.92" cy="560.93" r="2.9" fill="#ADC6EC"/><circle cx="1258.73" cy="562.6" r="2.9" fill="#ADC6EC"/><circle cx="1267.54" cy="562.6" r="2.9" fill="#ADC6EC"/><circle cx="1276.35" cy="562.6" r="2.9" fill="#ADC6EC"/><circle cx="1285.16" cy="562.6" r="2.9" fill="#ADC6EC"/>
<polyline points="1285.16,353.6 1287.37,482.13 1289.57,517.66 1293.98,559.47 1302.79,562.18 1311.6,562.6 1320.41,562.6 1329.22,562.6" fill="none" stroke="#3C4062" stroke-width="1.6" stroke-linejoin="round"/><circle cx="1285.16" cy="353.6" r="2.9" fill="#3C4062"/><circle cx="1287.37" cy="482.13" r="2.9" fill="#3C4062"/><circle cx="1289.57" cy="517.66" r="2.9" fill="#3C4062"/><circle cx="1293.98" cy="559.47" r="2.9" fill="#3C4062"/><circle cx="1302.79" cy="562.18" r="2.9" fill="#3C4062"/><circle cx="1311.6" cy="562.6" r="2.9" fill="#3C4062"/><circle cx="1320.41" cy="562.6" r="2.9" fill="#3C4062"/><circle cx="1329.22" cy="562.6" r="2.9" fill="#3C4062"/>
<polyline points="1329.22,353.6 1331.42,449.74 1333.63,476.91 1338.03,555.7 1346.84,561.56 1355.65,562.6 1364.46,562.6 1373.28,562.6" fill="none" stroke="#BFBFBF" stroke-width="1.6" stroke-linejoin="round"/><circle cx="1329.22" cy="353.6" r="2.9" fill="#BFBFBF"/><circle cx="1331.42" cy="449.74" r="2.9" fill="#BFBFBF"/><circle cx="1333.63" cy="476.91" r="2.9" fill="#BFBFBF"/><circle cx="1338.03" cy="555.7" r="2.9" fill="#BFBFBF"/><circle cx="1346.84" cy="561.56" r="2.9" fill="#BFBFBF"/><circle cx="1355.65" cy="562.6" r="2.9" fill="#BFBFBF"/><circle cx="1364.46" cy="562.6" r="2.9" fill="#BFBFBF"/><circle cx="1373.28" cy="562.6" r="2.9" fill="#BFBFBF"/>
<polyline points="1373.28,353.6 1375.48,444.52 1377.68,456.01 1382.09,542.12 1390.9,561.56 1399.71,562.6 1408.52,562.6 1417.33,562.6" fill="none" stroke="#9C84AC" stroke-width="1.6" stroke-linejoin="round"/><circle cx="1373.28" cy="353.6" r="2.9" fill="#9C84AC"/><circle cx="1375.48" cy="444.52" r="2.9" fill="#9C84AC"/><circle cx="1377.68" cy="456.01" r="2.9" fill="#9C84AC"/><circle cx="1382.09" cy="542.12" r="2.9" fill="#9C84AC"/><circle cx="1390.9" cy="561.56" r="2.9" fill="#9C84AC"/><circle cx="1399.71" cy="562.6" r="2.9" fill="#9C84AC"/><circle cx="1408.52" cy="562.6" r="2.9" fill="#9C84AC"/><circle cx="1417.33" cy="562.6" r="2.9" fill="#9C84AC"/>
<polyline points="1417.33,353.6 1419.53,439.29 1421.74,459.15 1426.14,472.73 1434.95,539.61 1443.76,560.51 1452.57,561.97 1461.38,562.6" fill="none" stroke="#73B193" stroke-width="1.6" stroke-linejoin="round"/><circle cx="1417.33" cy="353.6" r="2.9" fill="#73B193"/><circle cx="1419.53" cy="439.29" r="2.9" fill="#73B193"/><circle cx="1421.74" cy="459.15" r="2.9" fill="#73B193"/><circle cx="1426.14" cy="472.73" r="2.9" fill="#73B193"/><circle cx="1434.95" cy="539.61" r="2.9" fill="#73B193"/><circle cx="1443.76" cy="560.51" r="2.9" fill="#73B193"/><circle cx="1452.57" cy="561.97" r="2.9" fill="#73B193"/><circle cx="1461.38" cy="562.6" r="2.9" fill="#73B193"/>
<g font-size="16.5"><text x="1161" y="350.3" textLength="28" lengthAdjust="spacingAndGlyphs">1 st</text><text x="1204" y="350.3" textLength="34" lengthAdjust="spacingAndGlyphs">2 nd</text><text x="1248" y="350.3" textLength="30" lengthAdjust="spacingAndGlyphs">3 rd</text><text x="1293" y="350.3" textLength="30" lengthAdjust="spacingAndGlyphs">4 th</text><text x="1337" y="350.3" textLength="30" lengthAdjust="spacingAndGlyphs">5 th</text><text x="1381" y="350.3" textLength="30" lengthAdjust="spacingAndGlyphs">6 th</text><text x="1426" y="350.3" textLength="30" lengthAdjust="spacingAndGlyphs">7 th</text></g>
<text x="1094" y="346" font-size="18.5">(f)</text>
<path d="M328.2 637H343M358.87 637H374.17M386.29 637H401.59M413.71 637H429.01M441.13 637H456.43M468.55 637H483.85M495.97 637H511.27M523.39 637H538.69M550.81 637H566.11M578.23 637H593.53M605.65 637H620.95M633.07 637H648.37M660.49 637H675.79M687.91 637H703.21M715.33 637H730.63M742.75 637H758.05M770.17 637H785.47M797.59 637H812.89M823.9 637H829.9M827.9 635V646M827.9 659V673.5M827.9 685.9V700.4M827.9 712.8V727.3M827.9 739.7V754.2M827.9 766.6V781.1M827.9 793.5V808M827.9 820.4V834.9M827.9 847.3V861.8M827.9 874.2V888.7M827.9 901.1V915.6M827.9 928V942.5M827.9 954.9V969.4M827.9 981.8V986.5M330.2 635V639M330.2 646.9V661.4M330.2 673.8V688.3M330.2 700.7V715.2M330.2 727.6V742.1M330.2 754.5V769M330.2 781.4V795.9M330.2 808.3V822.8M330.2 835.2V849.7M330.2 862.1V876.6M330.2 889V903.5M330.2 915.9V930.4M330.2 942.8V957.3M330.2 969.7V986.5M328.2 984.5H339.5M352.05 984.5H367.05M379.35 984.5H394.35M406.65 984.5H421.65M433.95 984.5H448.95M461.25 984.5H476.25M488.55 984.5H503.55M515.85 984.5H530.85M543.15 984.5H558.15M570.45 984.5H585.45M597.75 984.5H612.75M625.05 984.5H640.05M652.35 984.5H667.35M679.65 984.5H694.65M706.95 984.5H721.95M734.25 984.5H749.25M761.55 984.5H776.55M788.85 984.5H803.85M816.15 984.5H829.9" fill="none" stroke="#00AEEF" stroke-width="4"/>
<defs><filter id="semblur" x="-5%" y="-5%" width="110%" height="110%"><feGaussianBlur stdDeviation="0.9"/></filter><linearGradient id="gcap" x1="0" x2="1" y1="0" y2="0"><stop offset="0" stop-color="#4a4a4a"/><stop offset="0.45" stop-color="#a8a8a8"/><stop offset="1" stop-color="#4a4a4a"/></linearGradient><linearGradient id="gglass" x1="0" x2="1" y1="0" y2="0"><stop offset="0" stop-color="#9aa0a6"/><stop offset="0.12" stop-color="#d8e6f0"/><stop offset="0.6" stop-color="#e6eef4"/><stop offset="0.9" stop-color="#c4d4e0"/><stop offset="1" stop-color="#8a8f94"/></linearGradient><linearGradient id="gwhite" x1="0" x2="1" y1="0" y2="0"><stop offset="0" stop-color="#a0a0a0"/><stop offset="0.15" stop-color="#f2f2f2"/><stop offset="0.85" stop-color="#e4e4e4"/><stop offset="1" stop-color="#8c8c8c"/></linearGradient><linearGradient id="gdark" x1="0" x2="1" y1="0" y2="0"><stop offset="0" stop-color="#777"/><stop offset="0.12" stop-color="#4c4c4c"/><stop offset="0.8" stop-color="#585858"/><stop offset="1" stop-color="#7a7a7a"/></linearGradient><linearGradient id="gsp" x1="0" x2="1" y1="0" y2="0"><stop offset="0" stop-color="#bdbdbd"/><stop offset="0.5" stop-color="#b0b0b0"/><stop offset="1" stop-color="#8f8f8f"/></linearGradient><linearGradient id="gbk" x1="0" x2="1" y1="0" y2="0"><stop offset="0" stop-color="#3a3a3a"/><stop offset="0.6" stop-color="#262626"/><stop offset="1" stop-color="#1c1c1c"/></linearGradient><linearGradient id="gbeak" x1="0" x2="1" y1="0" y2="0"><stop offset="0" stop-color="#b8c9cf"/><stop offset="0.5" stop-color="#d6e2e6"/><stop offset="1" stop-color="#bccdd3"/></linearGradient><linearGradient id="gmauve" x1="0" x2="1" y1="0" y2="0"><stop offset="0" stop-color="#a45a84"/><stop offset="0.6" stop-color="#96507a"/><stop offset="1" stop-color="#b87aa0"/></linearGradient></defs>
<text x="334" y="653" font-size="18.5">(g)</text>
<text x="349.2" y="697.7" font-size="19.5" textLength="177.4" lengthAdjust="spacingAndGlyphs">The blank sponges</text>
<text x="493.5" y="974.5" font-size="19.5" textLength="188.7" lengthAdjust="spacingAndGlyphs">The loaded sponges</text>
<g><clipPath id="cs1"><rect x="379.9" y="703.4" width="124.3" height="82"/></clipPath><rect x="379.9" y="703.4" width="124.3" height="82" fill="#626262"/><g clip-path="url(#cs1)"><g filter="url(#semblur)"><polyline points="379.93,714.69 404.03,728.48 436.68,748.07" fill="none" stroke="#767676" stroke-width="3.63" stroke-linecap="round" stroke-linejoin="round" opacity="1"/><polyline points="379.93,740.82 411.28,742.27 435.23,748.8" fill="none" stroke="#707070" stroke-width="2.9" stroke-linecap="round" stroke-linejoin="round" opacity="1"/><polyline points="430.15,707.43 427.98,721.95 427.25,735.74" fill="none" stroke="#6d6d6d" stroke-width="3.27" stroke-linecap="round" stroke-linejoin="round" opacity="1"/><polyline points="411.28,724.12 430.15,716.87" fill="none" stroke="#6b6b6b" stroke-width="2.9" stroke-linecap="round" stroke-linejoin="round" opacity="1"/><polyline points="385.16,729.2 382.26,748.8" fill="none" stroke="#6c6c6c" stroke-width="1.81" stroke-linecap="round" stroke-linejoin="round" opacity="1"/><polyline points="393.14,748.8 396.77,763.31" fill="none" stroke="#6a6a6a" stroke-width="3.63" stroke-linecap="round" stroke-linejoin="round" opacity="1"/><polyline points="483.85,785.45 504.17,765.49" fill="none" stroke="#6e6e6e" stroke-width="6.53" stroke-linecap="round" stroke-linejoin="round" opacity="1"/><polyline points="472.97,735.74 504.17,744.44" fill="none" stroke="#6f6f6f" stroke-width="1.02" stroke-linecap="round" stroke-linejoin="round" opacity="1"/><polyline points="424.35,785.45 432.33,774.2" fill="none" stroke="#6f6f6f" stroke-width="1.31" stroke-linecap="round" stroke-linejoin="round" opacity="1"/><ellipse cx="488.93" cy="727.03" rx="18.14" ry="19.59" fill="#5a5a5a"/><polyline points="480.22,738.64 491.11,728.48" fill="none" stroke="#656565" stroke-width="4.35" stroke-linecap="round" stroke-linejoin="round" opacity="1"/><polygon points="461.36,703.44 492.56,703.44 482.4,706.71 474.42,712.51 470.07,721.22 465.71,715.42" fill="#7a7a7a"/><polygon points="450.47,703.44 460.99,703.44 461.72,716.14 458.45,732.11 448.29,751.7 445.03,763.31 447.57,777.1 448.29,785.45 435.23,785.45 432.33,772.02 421.44,766.21 405.48,767.67 379.93,785.45 379.93,779.28 398.95,764.76 425.8,755.33 439.59,745.9 449.02,730.66 454.1,719.77 451.92,708.89" fill="#828282"/><polygon points="461.36,716.14 465.71,714.69 468.61,721.95 468.25,732.83 472.61,741.54 504.17,747.35 504.17,753.88 478.05,755.33 468.61,762.59 462.08,777.1 458.45,785.45 449.75,785.45 453.37,777.1 462.08,756.06 464.62,738.64 461.72,721.22" fill="#7e7e7e"/><polyline points="463.17,721.95 465.35,738.64 462.81,756.06 457,770.57" fill="none" stroke="#8d8d8d" stroke-width="1.02" stroke-linecap="round" stroke-linejoin="round" opacity="1"/></g></g></g>
<text x="384.7" y="776" font-size="8.5" textLength="26.5" lengthAdjust="spacingAndGlyphs" fill="#fff">10 μm</text>
<rect x="389.2" y="779.2" width="11.6" height="2" fill="#fff"/>
<g><clipPath id="cs2"><rect x="517.9" y="874.4" width="123.9" height="81.7"/></clipPath><rect x="517.9" y="874.4" width="123.9" height="81.7" fill="#6a6a6a"/><g clip-path="url(#cs2)"><g filter="url(#semblur)"><polygon points="517.93,874.44 563.8,874.44 553.64,898.03 549.28,913.99 517.93,909.64" fill="#626262"/><polygon points="517.93,876.98 531.14,882.79 544.2,890.77 548.56,912.54 543.48,914.72 536.95,898.03 527.51,890.04 517.93,887.14" fill="#8a8a8a"/><polyline points="549.28,890.77 568.15,883.51 575.41,876.26" fill="none" stroke="#747474" stroke-width="4.35" stroke-linecap="round" stroke-linejoin="round" opacity="1"/><polyline points="552.19,934.31 556.54,956.08" fill="none" stroke="#787878" stroke-width="3.63" stroke-linecap="round" stroke-linejoin="round" opacity="1"/><polygon points="603.71,941.57 641.81,927.06 641.81,956.08 600.08,956.08" fill="#737373"/><polygon points="517.93,919.8 545.66,927.06 527.51,941.57 517.93,945.2" fill="#646464"/><polygon points="574.68,874.44 595,874.44 607.34,882.06 626.21,891.5 641.81,893.67 641.81,903.11 629.11,911.09 618.22,926.33 605.16,941.57 600.81,956.08 589.92,956.08 585.57,945.92 574.68,935.76 563.07,929.23 542.03,921.25 517.93,915.44 517.93,909.64 538.4,914.72 556.54,911.82 569.6,892.95" fill="#858585"/><polygon points="545.66,927.06 554.36,932.86 527.51,948.83 517.93,956.08 517.93,948.1 534.77,935.76" fill="#7c7c7c"/><polygon points="580.49,894.04 609.52,890.41 616.05,899.48 612.42,915.44 598.63,931.41 585.57,932.86 573.96,924.15 573.23,909.64 576.86,898.75" fill="#5d5d5d"/><polyline points="585.57,877.71 578.31,890.77 571.06,906.74 565.25,922.7" fill="none" stroke="#6f6f6f" stroke-width="3.63" stroke-linecap="round" stroke-linejoin="round" opacity="0.8"/><polyline points="618.22,896.58 620.4,906.74 613.15,921.25" fill="none" stroke="#707070" stroke-width="2.9" stroke-linecap="round" stroke-linejoin="round" opacity="0.8"/><polyline points="598.63,935.76 610.97,926.33" fill="none" stroke="#727272" stroke-width="2.18" stroke-linecap="round" stroke-linejoin="round" opacity="0.8"/><polyline points="542.03,916.9 563.8,922.7" fill="none" stroke="#727272" stroke-width="2.18" stroke-linecap="round" stroke-linejoin="round" opacity="0.8"/><polyline points="595,874.81 607.34,882.43 626.21,891.86 641.81,894.04" fill="none" stroke="#9a9a9a" stroke-width="0.73" stroke-linecap="round" stroke-linejoin="round" opacity="1"/><polyline points="641.81,903.11 629.11,911.82 618.22,927.06 605.89,941.57 601.17,955.36" fill="none" stroke="#9c9c9c" stroke-width="0.73" stroke-linecap="round" stroke-linejoin="round" opacity="1"/></g></g></g>
<text x="522.4" y="948" font-size="8.5" textLength="26.5" lengthAdjust="spacingAndGlyphs" fill="#fff">10 μm</text>
<rect x="529.4" y="950.7" width="12.2" height="2" fill="#fff"/>
<path d="M583.5 688V673.6H759.2V696" fill="none" stroke="#DDE2E7" stroke-width="7.2"/>
<path d="M580 688V670H763V696M587 688V677H755.5V696" fill="none" stroke="#C9CED4" stroke-width="0.5"/>
<path d="M420.3 880V851.1H500M515 851.1H583.6V834" fill="none" stroke="#D4078F" stroke-width="6.6"/>
<text x="565.8" y="663.9" font-size="14" textLength="53.2" lengthAdjust="spacingAndGlyphs">Reactor</text>
<text x="488.7" y="817.9" font-size="14" textLength="38.7" lengthAdjust="spacingAndGlyphs">Pump</text>
<text x="364" y="959.9" font-size="14" textLength="125.5" lengthAdjust="spacingAndGlyphs">Wastewater + PMS</text>
<text x="667.4" y="788.9" font-size="14" textLength="130" lengthAdjust="spacingAndGlyphs">The blank sponges</text>
<text x="675.2" y="845.3" font-size="14" textLength="137.7" lengthAdjust="spacingAndGlyphs">The loaded sponges</text>
<rect x="567.4" y="703" width="33.8" height="119" fill="#e9e9e9"/>
<rect x="567.4" y="703" width="2" height="119" fill="#9a9a9a"/><rect x="598.2" y="703" width="3" height="119" fill="#8c8c8c"/>
<rect x="569.7" y="702" width="28.7" height="8" fill="url(#gcap)" opacity="0.8"/>
<rect x="569.7" y="712.5" width="28.7" height="35" fill="url(#gglass)"/>
<ellipse cx="584.05" cy="712.5" rx="14.35" ry="4.2" fill="#bdd4e5"/>
<path d="M569.7 747A14.35 3 0 0 0 598.4 747Z" fill="#dfe7ee"/>
<rect x="569.7" y="753" width="28.7" height="9" fill="#dcdcdc"/>
<rect x="569.7" y="761" width="28.7" height="18" fill="url(#gwhite)"/>
<ellipse cx="584.05" cy="768.5" rx="14.35" ry="3" fill="#e2e2e2"/>
<path d="M569.7 778Q584.05 782 598.4 778V806.5H569.7Z" fill="url(#gdark)"/>
<path d="M569.7 788.5Q584.05 792.5 598.4 788.5M569.7 799Q584.05 803 598.4 799" stroke="#8a8a8a" stroke-width="0.9" fill="none"/>
<path d="M570.2 805.5Q584.05 809 597.9 805.5V812.5Q584.05 809.5 570.2 812.5Z" fill="#D63CB0"/>
<ellipse cx="584.05" cy="815" rx="14.35" ry="3.2" fill="#d2d2d2"/>
<rect x="569.7" y="816" width="28.7" height="7" fill="url(#gcap)" opacity="0.75"/>
<rect x="555.6" y="746.8" width="56.6" height="6.8" rx="1" fill="#E1E1E1"/>
<path d="M567.4 694.5V704A16.9 3.6 0 0 0 601.2 704V694.5Z" fill="url(#gcap)"/><ellipse cx="584.3" cy="694.5" rx="16.9" ry="3.6" fill="#dcdcdc"/>
<path d="M567.4 823.5V831A16.9 2.6 0 0 0 601.2 831V823.5Z" fill="url(#gcap)"/><ellipse cx="584.3" cy="823.5" rx="16.9" ry="2.6" fill="#8e8e8e"/>
<path d="M567.9 822.5Q584.3 826 600.7 822.5" stroke="#d4d4d4" stroke-width="1.1" fill="none"/>
<rect x="582.7" y="688" width="3.2" height="3.5" fill="#E9B11E"/><rect x="582" y="831.2" width="3.2" height="3.5" fill="#E9B11E"/>
<rect x="558" y="764.4" width="53.2" height="46.3" rx="1.5" fill="none" stroke="#1e1e1e" stroke-width="1.2" stroke-dasharray="4.6 3.1"/>
<path d="M619.8 765.5V778A15.75 3.2 0 0 0 651.3 778V765.5Z" fill="url(#gsp)"/><ellipse cx="635.55" cy="765.5" rx="15.75" ry="3.2" fill="#f1f1f1"/>
<path d="M619.8 788V800.5A15.75 3.2 0 0 0 651.3 800.5V788Z" fill="url(#gsp)"/><ellipse cx="635.55" cy="788" rx="15.75" ry="3.2" fill="#f1f1f1"/>
<path d="M619.8 811.5V824A15.75 3.2 0 0 0 651.3 824V811.5Z" fill="url(#gbk)"/><ellipse cx="635.55" cy="811.5" rx="15.75" ry="3.2" fill="#2e2e2e"/>
<path d="M619.8 832.5V845A15.75 3.2 0 0 0 651.3 845V832.5Z" fill="url(#gbk)"/><ellipse cx="635.55" cy="832.5" rx="15.75" ry="3.2" fill="#2e2e2e"/>
<path d="M619.8 854.5V867A15.75 3.2 0 0 0 651.3 867V854.5Z" fill="url(#gbk)"/><ellipse cx="635.55" cy="854.5" rx="15.75" ry="3.2" fill="#2e2e2e"/>
<path d="M655.5 768.3H659.5Q661.5 768.3 661.5 770.5V781.5Q661.5 783.8 664.8 783.8Q661.5 783.8 661.5 786V797Q661.5 799.2 659.5 799.2H655.5" fill="none" stroke="#1F3B63" stroke-width="1.4"/>
<path d="M656.5 815.5H663.5Q666 815.5 666 818V838Q666 841 671.5 841Q666 841 666 844V864Q666 866.5 663.5 866.5H656.5" fill="none" stroke="#1F3B63" stroke-width="1.6"/>
<path d="M734.6 708V750A25.2 8.5 0 0 0 785 750V708Z" fill="#eef1f2" stroke="#cfd4d6" stroke-width="0.6"/>
<path d="M738 716V748.5A21.8 7.2 0 0 0 781.6 748.5V716Z" fill="url(#gbeak)"/>
<path d="M738 716A21.8 6 0 0 0 781.6 716V723A21.8 6 0 0 1 738 723Z" fill="#a9cbd6" opacity="0.8"/>
<rect x="755.3" y="714" width="7.7" height="18" fill="#cdd6dc" stroke="#8a949a" stroke-width="0.6"/>
<path d="M734.6 705V713A25.2 9 0 0 0 785 713V705Z" fill="#9e9e9e"/><ellipse cx="759.8" cy="705" rx="25.2" ry="9" fill="#b3b3b3"/>
<path d="M397.4 890V934A25.2 9 0 0 0 447.8 934V890Z" fill="#ececec" stroke="#d2d2d2" stroke-width="0.6"/>
<path d="M401.5 900V932A21 7.4 0 0 0 443.5 932V900Z" fill="url(#gmauve)"/>
<rect x="417" y="898" width="6.8" height="20.5" fill="#B2116F"/>
<path d="M401.5 898.5H443.5V902A21 5 0 0 1 401.5 902Z" fill="#c88ab0" opacity="0.7"/>
<path d="M397.4 887V894.5A25.2 9.5 0 0 0 447.8 894.5V887Z" fill="#a9a9a9"/><ellipse cx="422.6" cy="887" rx="25.2" ry="9.5" fill="#c4c4c4"/>
<path d="M484 841L496.5 830.5H522.5V862L510 872.5H484Z" fill="#f2f2f2" stroke="#d9d9d9" stroke-width="0.6"/>
<path d="M496.5 830.5H522.5L510 841H484Z" fill="#dadada"/>
<path d="M510 841L522.5 830.5V862L510 872.5Z" fill="#e6e6e6"/>
<path d="M487 868V856Q487 842.5 498.5 842.5Q511 842.5 511 856V866L505 871H489Z" fill="#6F819D"/>
<path d="M490.5 853Q498.5 843 507.5 853L504 856Q498.5 850 494 856Z" fill="#1e232c"/>
<circle cx="499" cy="860" r="5" fill="#8696b0"/><circle cx="499" cy="861" r="2.6" fill="#4f5d76"/>
<circle cx="489.8" cy="867.5" r="1.5" fill="#3d4a60"/><circle cx="506.5" cy="867" r="1.5" fill="#3d4a60"/>
<path d="M511 855H516V858H511Z" fill="#7d8eaa"/>
<defs><linearGradient id="wallh" x1="0" x2="1" y1="0" y2="0"><stop offset="0" stop-color="#b5a59d"/><stop offset="0.2" stop-color="#bfb2aa"/><stop offset="0.5" stop-color="#c4b9b0"/><stop offset="1" stop-color="#c4bab0"/></linearGradient><linearGradient id="walli" x1="0" x2="1" y1="0" y2="0"><stop offset="0" stop-color="#bcafa7"/><stop offset="0.3" stop-color="#c4b9b0"/><stop offset="1" stop-color="#c6bbb2"/></linearGradient><linearGradient id="tableg" x1="0" x2="0" y1="0" y2="1"><stop offset="0" stop-color="#a4a0ae"/><stop offset="1" stop-color="#9a97a9"/></linearGradient><linearGradient id="redliq" x1="0" x2="1" y1="0" y2="0"><stop offset="0" stop-color="#a20c16"/><stop offset="0.45" stop-color="#b80e16"/><stop offset="1" stop-color="#a00c14"/></linearGradient><linearGradient id="clearb" x1="0" x2="1" y1="0" y2="0"><stop offset="0" stop-color="#9d97a8"/><stop offset="0.5" stop-color="#b2acba"/><stop offset="1" stop-color="#9b95a6"/></linearGradient><linearGradient id="grayb" x1="0" x2="1" y1="0" y2="0"><stop offset="0" stop-color="#9c9896"/><stop offset="0.5" stop-color="#b2aeaa"/><stop offset="1" stop-color="#989492"/></linearGradient><linearGradient id="yelliq" x1="0" x2="0" y1="0" y2="1"><stop offset="0" stop-color="#8c7244"/><stop offset="1" stop-color="#7a5e34"/></linearGradient><linearGradient id="pinktop" x1="0" x2="0" y1="0" y2="1"><stop offset="0" stop-color="#d65a7e"/><stop offset="1" stop-color="#e684a4"/></linearGradient><linearGradient id="redfront" x1="0" x2="0" y1="0" y2="1"><stop offset="0" stop-color="#c8a6a6"/><stop offset="0.12" stop-color="#b27a7a"/><stop offset="0.15" stop-color="#b81e24"/><stop offset="1" stop-color="#a61c20"/></linearGradient><linearGradient id="pinkk" x1="0" x2="0" y1="0" y2="1"><stop offset="0" stop-color="#e48cc4"/><stop offset="1" stop-color="#ee5cb2"/></linearGradient><linearGradient id="olivek" x1="0" x2="0" y1="0" y2="1"><stop offset="0" stop-color="#9c9650"/><stop offset="1" stop-color="#8a8638"/></linearGradient><linearGradient id="tanfront" x1="0" x2="0" y1="0" y2="1"><stop offset="0" stop-color="#96783c"/><stop offset="1" stop-color="#8a6c34"/></linearGradient></defs>
<g><clipPath id="cph"><rect x="835.7" y="630.7" width="308.6" height="176.7"/></clipPath><g clip-path="url(#cph)"><rect x="835.7" y="630.7" width="308.6" height="176.7" fill="url(#wallh)"/><rect x="835.7" y="784" width="308.6" height="24" fill="url(#tableg)"/><rect x="923" y="767" width="24" height="15" rx="2" fill="#cec8be"/><rect x="937.5" y="758.5" width="20" height="13" rx="2.5" fill="#151418"/><path d="M940 790Q960 797 1000 790Q1015 786 1022 778M972 787Q990 783 1010 786" stroke="#19181c" stroke-width="1.1" fill="none"/><path d="M1001.7 795.3L1057.3 795.3L1062.3 804.8L997.7 804.8Z" fill="#17161a"/><rect x="1043.3" y="651" width="1.8" height="145.3" fill="#5d5a5a"/><path d="M1030 691.5L1087 690" stroke="#6a6868" stroke-width="1.3"/><rect x="1042.2" y="688" width="4" height="5" fill="#3a3838"/><path d="M1014 640Q1040 645 1060 690L1096 712" stroke="#c9bda9" stroke-width="0.8" fill="none"/><rect x="1011.8" y="634.5" width="4" height="7" fill="#bcb29c"/><rect x="1001.05" y="641.5" width="25.5" height="4.5" fill="#b8ae98" opacity="0.9"/><rect x="1003.55" y="646" width="20.5" height="29" fill="#c6bcac"/><rect x="1003.55" y="683" width="20.5" height="24.6" fill="#a09880"/><rect x="991.8" y="675" width="44" height="8.5" rx="2" fill="#bcb09a"/><rect x="996.3" y="672.5" width="3" height="12" fill="#7d7466"/><rect x="1005.3" y="672.5" width="3" height="12" fill="#7d7466"/><rect x="1019.3" y="672.5" width="3" height="12" fill="#7d7466"/><rect x="1028.3" y="672.5" width="3" height="12" fill="#7d7466"/><rect x="1004.05" y="707.6" width="19.5" height="29.2" fill="#1e1216"/><rect x="1004.05" y="736.8" width="19.5" height="5" fill="#F0246E"/><rect x="1000.05" y="741.8" width="27.5" height="7.2" rx="1.5" fill="#bca8a2"/><rect x="1002.55" y="742.3" width="22.5" height="2.2" fill="#8e5a5e"/><path d="M1005 694L1028 688L1029 692L1007 700Z" fill="#8a8f78"/><path d="M1013.3 749Q1013.5 762 1018 772Q1025 785 1023.5 796Q1020 804 1000 804.5Q975 805 958 804Q950 803 949 797" stroke="#F0607C" stroke-width="1.7" fill="none"/><path d="M898.2 718.5C902.2 725.5 916.7 725.5 917.3 737.5Q919.3 742.5 917.3 747.5Q919.3 752.5 917.3 757.5Q919.3 762.5 917.3 767.5Q919.3 772.5 917.3 777.5Q919.3 782.5 917.3 787.5Q919.3 792.5 917.3 797.5Q917.7 805.5 909.7 805.5H870.7Q862.7 805.5 863.1 797.5Q861.1 792.5 863.1 787.5Q861.1 782.5 863.1 777.5Q861.1 772.5 863.1 767.5Q861.1 762.5 863.1 757.5Q861.1 752.5 863.1 747.5Q861.1 742.5 863.1 737.5C863.7 725.5 878.2 725.5 882.2 718.5Z" fill="#c9c2dc"/><clipPath id="cbh1"><path d="M898.2 718.5C902.2 725.5 916.7 725.5 917.3 737.5Q919.3 742.5 917.3 747.5Q919.3 752.5 917.3 757.5Q919.3 762.5 917.3 767.5Q919.3 772.5 917.3 777.5Q919.3 782.5 917.3 787.5Q919.3 792.5 917.3 797.5Q917.7 805.5 909.7 805.5H870.7Q862.7 805.5 863.1 797.5Q861.1 792.5 863.1 787.5Q861.1 782.5 863.1 777.5Q861.1 772.5 863.1 767.5Q861.1 762.5 863.1 757.5Q861.1 752.5 863.1 747.5Q861.1 742.5 863.1 737.5C863.7 725.5 878.2 725.5 882.2 718.5Z"/></clipPath><rect x="859.7" y="736" width="61" height="69.5" fill="url(#redliq)" clip-path="url(#cbh1)"/><path d="M863.7 747.5Q890.2 750 916.7 747.5" stroke="#fff" stroke-opacity="0.3" stroke-width="1.1" fill="none"/><path d="M863.7 757.5Q890.2 760 916.7 757.5" stroke="#fff" stroke-opacity="0.3" stroke-width="1.1" fill="none"/><path d="M863.7 767.5Q890.2 770 916.7 767.5" stroke="#fff" stroke-opacity="0.3" stroke-width="1.1" fill="none"/><path d="M863.7 777.5Q890.2 780 916.7 777.5" stroke="#fff" stroke-opacity="0.3" stroke-width="1.1" fill="none"/><path d="M863.7 787.5Q890.2 790 916.7 787.5" stroke="#fff" stroke-opacity="0.3" stroke-width="1.1" fill="none"/><rect x="898.45" y="739.5" width="2.6" height="30.6" rx="1.3" fill="#fff" opacity="0.3"/><rect x="882.7" y="704.5" width="15" height="14" rx="1.5" fill="#4450B4"/><rect x="876.2" y="713" width="31" height="4" rx="2" fill="#4450B4"/><path d="M890 712L884 736" stroke="#F0607C" stroke-width="1.3"/><path d="M893.5 704.5Q911 703 913.5 722Q915 740 906 754Q896 770 900 781Q906 792 925 787Q938 783 947 780.5" stroke="#F0607C" stroke-width="1.6" fill="none"/><path d="M1102.2 720C1106.2 727 1119.95 727 1120.55 739Q1122.55 743.88 1120.55 748.75Q1122.55 753.62 1120.55 758.5Q1122.55 763.38 1120.55 768.25Q1122.55 773.12 1120.55 778Q1122.55 782.88 1120.55 787.75Q1122.55 792.62 1120.55 797.5Q1120.95 805.5 1112.95 805.5H1075.45Q1067.45 805.5 1067.85 797.5Q1065.85 792.62 1067.85 787.75Q1065.85 782.88 1067.85 778Q1065.85 773.12 1067.85 768.25Q1065.85 763.38 1067.85 758.5Q1065.85 753.62 1067.85 748.75Q1065.85 743.88 1067.85 739C1068.45 727 1082.2 727 1086.2 720Z" fill="url(#clearb)"/><path d="M1068.45 748.75Q1094.2 751.25 1119.95 748.75" stroke="#fff" stroke-opacity="0.3" stroke-width="1.1" fill="none"/><path d="M1068.45 758.5Q1094.2 761 1119.95 758.5" stroke="#fff" stroke-opacity="0.3" stroke-width="1.1" fill="none"/><path d="M1068.45 768.25Q1094.2 770.75 1119.95 768.25" stroke="#fff" stroke-opacity="0.3" stroke-width="1.1" fill="none"/><path d="M1068.45 778Q1094.2 780.5 1119.95 778" stroke="#fff" stroke-opacity="0.3" stroke-width="1.1" fill="none"/><path d="M1068.45 787.75Q1094.2 790.25 1119.95 787.75" stroke="#fff" stroke-opacity="0.3" stroke-width="1.1" fill="none"/><rect x="1102.23" y="741" width="2.6" height="29.93" rx="1.3" fill="#fff" opacity="0.3"/><rect x="1086.7" y="706" width="15" height="14" rx="1.5" fill="#4450B4"/><rect x="1080.2" y="714.5" width="31" height="4" rx="2" fill="#4450B4"/><rect x="945.5" y="770" width="26.5" height="33" rx="4" fill="#d6d2d0"/><rect x="947.7" y="772" width="22" height="8" rx="2" fill="#bebcc0"/><rect x="950.5" y="774.2" width="7" height="3.2" fill="#3f7fe0"/><circle cx="964.5" cy="776" r="1.8" fill="#8f8f92"/><rect x="947.7" y="781.5" width="22" height="19.5" rx="3" fill="#6d6862"/><circle cx="957" cy="792" r="7" fill="#f4f2f0"/><circle cx="957" cy="792" r="2.6" fill="#fff"/><path d="M948.5 800Q956.5 779 965 800" stroke="#f0607c" stroke-width="1.6" fill="none"/><ellipse cx="847" cy="802" rx="8" ry="3.6" fill="#4c62c4"/><ellipse cx="1126" cy="801.5" rx="7.5" ry="3.4" fill="#5068c8"/></g><text x="839.5" y="648" font-size="18.5">(h)</text></g>
<g><clipPath id="cpi"><rect x="1146.9" y="630.7" width="310.5" height="177"/></clipPath><g clip-path="url(#cpi)"><rect x="1146.9" y="630.7" width="310.5" height="177" fill="url(#walli)"/><rect x="1146.9" y="783.3" width="310.5" height="25" fill="url(#tableg)"/><rect x="1240" y="765" width="22" height="15" rx="2" fill="#cec8be"/><rect x="1254.4" y="756" width="19" height="13.5" rx="2.5" fill="#151418"/><path d="M1250 788Q1275 795 1310 788Q1325 784 1334 776M1286 785Q1300 781 1322 784" stroke="#19181c" stroke-width="1.1" fill="none"/><path d="M1316 791.5L1371.5 791.5L1376.5 802L1312 802Z" fill="#17161a"/><rect x="1357.6" y="652" width="1.8" height="140.5" fill="#5d5a5a"/><path d="M1344 692.5L1400 691" stroke="#6a6868" stroke-width="1.3"/><rect x="1356.5" y="689" width="4" height="5" fill="#3a3838"/><path d="M1329 641Q1352 647 1372 690L1410 712" stroke="#c9bda9" stroke-width="0.8" fill="none"/><rect x="1326.8" y="636" width="4" height="7" fill="#bcb29c"/><rect x="1316.05" y="643" width="25.5" height="4.5" fill="#b8ae98" opacity="0.9"/><rect x="1318.55" y="647.5" width="20.5" height="28.3" fill="#c0b694"/><rect x="1318.55" y="683.8" width="20.5" height="23.8" fill="#7c7656"/><rect x="1306.8" y="675.8" width="44" height="8.5" rx="2" fill="#bcb09a"/><rect x="1311.3" y="673.3" width="3" height="12" fill="#7d7466"/><rect x="1320.3" y="673.3" width="3" height="12" fill="#7d7466"/><rect x="1334.3" y="673.3" width="3" height="12" fill="#7d7466"/><rect x="1343.3" y="673.3" width="3" height="12" fill="#7d7466"/><rect x="1319.05" y="707.6" width="19.5" height="28.4" fill="#1e1216"/><rect x="1319.05" y="736" width="19.5" height="5" fill="#F0246E"/><rect x="1315.05" y="741" width="27.5" height="8" rx="1.5" fill="#bca8a2"/><rect x="1317.55" y="741.5" width="22.5" height="2.2" fill="#8e5a5e"/><path d="M1319 694L1343 688L1344 692L1321 700Z" fill="#77755a"/><path d="M1328.5 749V760Q1329 775 1336 785Q1341 796 1330 800Q1312 804 1286 801" stroke="#F0607C" stroke-width="1.7" fill="none"/><path d="M1216.3 717C1220.3 724 1233.55 724 1234.15 736Q1236.15 740.88 1234.15 745.75Q1236.15 750.62 1234.15 755.5Q1236.15 760.38 1234.15 765.25Q1236.15 770.12 1234.15 775Q1236.15 779.88 1234.15 784.75Q1236.15 789.62 1234.15 794.5Q1234.55 802.5 1226.55 802.5H1190.05Q1182.05 802.5 1182.45 794.5Q1180.45 789.62 1182.45 784.75Q1180.45 779.88 1182.45 775Q1180.45 770.12 1182.45 765.25Q1180.45 760.38 1182.45 755.5Q1180.45 750.62 1182.45 745.75Q1180.45 740.88 1182.45 736C1183.05 724 1196.3 724 1200.3 717Z" fill="url(#clearb)"/><clipPath id="cbi1"><path d="M1216.3 717C1220.3 724 1233.55 724 1234.15 736Q1236.15 740.88 1234.15 745.75Q1236.15 750.62 1234.15 755.5Q1236.15 760.38 1234.15 765.25Q1236.15 770.12 1234.15 775Q1236.15 779.88 1234.15 784.75Q1236.15 789.62 1234.15 794.5Q1234.55 802.5 1226.55 802.5H1190.05Q1182.05 802.5 1182.45 794.5Q1180.45 789.62 1182.45 784.75Q1180.45 779.88 1182.45 775Q1180.45 770.12 1182.45 765.25Q1180.45 760.38 1182.45 755.5Q1180.45 750.62 1182.45 745.75Q1180.45 740.88 1182.45 736C1183.05 724 1196.3 724 1200.3 717Z"/></clipPath><rect x="1179.05" y="792.5" width="58.5" height="10" fill="#c0183c" clip-path="url(#cbi1)"/><path d="M1183.05 745.75Q1208.3 748.25 1233.55 745.75" stroke="#fff" stroke-opacity="0.3" stroke-width="1.1" fill="none"/><path d="M1183.05 755.5Q1208.3 758 1233.55 755.5" stroke="#fff" stroke-opacity="0.3" stroke-width="1.1" fill="none"/><path d="M1183.05 765.25Q1208.3 767.75 1233.55 765.25" stroke="#fff" stroke-opacity="0.3" stroke-width="1.1" fill="none"/><path d="M1183.05 775Q1208.3 777.5 1233.55 775" stroke="#fff" stroke-opacity="0.3" stroke-width="1.1" fill="none"/><path d="M1183.05 784.75Q1208.3 787.25 1233.55 784.75" stroke="#fff" stroke-opacity="0.3" stroke-width="1.1" fill="none"/><rect x="1216.17" y="738" width="2.6" height="29.93" rx="1.3" fill="#fff" opacity="0.3"/><rect x="1200.8" y="703" width="15" height="14" rx="1.5" fill="#4450B4"/><rect x="1194.3" y="711.5" width="31" height="4" rx="2" fill="#4450B4"/><path d="M1211 705Q1232 700 1232 725Q1226 750 1217 765Q1212 790 1235 789Q1252 787 1263 779" stroke="#F0607C" stroke-width="1.6" fill="none"/><path d="M1207 712Q1203 760 1207 795" stroke="#F0607C" stroke-width="1.3" fill="none"/><path d="M1414.2 720C1418.2 727 1431.45 727 1432.05 739Q1434.05 743.62 1432.05 748.25Q1434.05 752.88 1432.05 757.5Q1434.05 762.12 1432.05 766.75Q1434.05 771.38 1432.05 776Q1434.05 780.62 1432.05 785.25Q1434.05 789.88 1432.05 794.5Q1432.45 802.5 1424.45 802.5H1387.95Q1379.95 802.5 1380.35 794.5Q1378.35 789.88 1380.35 785.25Q1378.35 780.62 1380.35 776Q1378.35 771.38 1380.35 766.75Q1378.35 762.12 1380.35 757.5Q1378.35 752.88 1380.35 748.25Q1378.35 743.62 1380.35 739C1380.95 727 1394.2 727 1398.2 720Z" fill="url(#grayb)"/><clipPath id="cbi2"><path d="M1414.2 720C1418.2 727 1431.45 727 1432.05 739Q1434.05 743.62 1432.05 748.25Q1434.05 752.88 1432.05 757.5Q1434.05 762.12 1432.05 766.75Q1434.05 771.38 1432.05 776Q1434.05 780.62 1432.05 785.25Q1434.05 789.88 1432.05 794.5Q1432.45 802.5 1424.45 802.5H1387.95Q1379.95 802.5 1380.35 794.5Q1378.35 789.88 1380.35 785.25Q1378.35 780.62 1380.35 776Q1378.35 771.38 1380.35 766.75Q1378.35 762.12 1380.35 757.5Q1378.35 752.88 1380.35 748.25Q1378.35 743.62 1380.35 739C1380.95 727 1394.2 727 1398.2 720Z"/></clipPath><rect x="1376.95" y="780" width="58.5" height="22.5" fill="url(#yelliq)" clip-path="url(#cbi2)"/><path d="M1380.95 748.25Q1406.2 750.75 1431.45 748.25" stroke="#fff" stroke-opacity="0.3" stroke-width="1.1" fill="none"/><path d="M1380.95 757.5Q1406.2 760 1431.45 757.5" stroke="#fff" stroke-opacity="0.3" stroke-width="1.1" fill="none"/><path d="M1380.95 766.75Q1406.2 769.25 1431.45 766.75" stroke="#fff" stroke-opacity="0.3" stroke-width="1.1" fill="none"/><path d="M1380.95 776Q1406.2 778.5 1431.45 776" stroke="#fff" stroke-opacity="0.3" stroke-width="1.1" fill="none"/><path d="M1380.95 785.25Q1406.2 787.75 1431.45 785.25" stroke="#fff" stroke-opacity="0.3" stroke-width="1.1" fill="none"/><rect x="1414.08" y="741" width="2.6" height="28.57" rx="1.3" fill="#fff" opacity="0.3"/><rect x="1398.7" y="706" width="15" height="14" rx="1.5" fill="#4450B4"/><rect x="1392.2" y="714.5" width="31" height="4" rx="2" fill="#4450B4"/><ellipse cx="1406" cy="799" rx="9" ry="2.6" fill="#3a3428"/><rect x="1260.4" y="767" width="26.5" height="33" rx="4" fill="#d6d2d0"/><rect x="1262.6" y="769" width="22" height="8" rx="2" fill="#bebcc0"/><rect x="1265.4" y="771.2" width="7" height="3.2" fill="#3f7fe0"/><circle cx="1279.4" cy="773" r="1.8" fill="#8f8f92"/><rect x="1262.6" y="778.5" width="22" height="19.5" rx="3" fill="#6d6862"/><circle cx="1271.9" cy="789" r="7" fill="#f4f2f0"/><circle cx="1271.9" cy="789" r="2.6" fill="#fff"/><path d="M1263.4 797Q1271.4 776 1279.9 797" stroke="#f0607c" stroke-width="1.6" fill="none"/><ellipse cx="1166" cy="800" rx="8" ry="3.6" fill="#4c62c4"/><ellipse cx="1437" cy="798.5" rx="7.5" ry="3.4" fill="#5068c8"/></g><text x="1161" y="653.5" font-size="18.5">(i)</text></g>
<g><clipPath id="cpj"><rect x="835.7" y="809.5" width="308.6" height="176.3"/></clipPath><g clip-path="url(#cpj)"><rect x="835.7" y="809.5" width="308.6" height="176.3" fill="#c9bcb4"/><path d="M852.4 874H1146V987H835.7V897Z" fill="#9ca0ae"/><rect x="1130" y="809" width="15" height="70" fill="#c8bab2"/><path d="M836 915Q860 905 875 897Q888 892 898 880" stroke="#1a191d" stroke-width="1.2" fill="none"/><path d="M922 846H1128L1141 884H893Z" fill="#d0c0c0"/><path d="M930 848H1122L1136 888H900Z" fill="url(#pinktop)"/><ellipse cx="978" cy="872" rx="38" ry="14.5" fill="#b8201c"/><ellipse cx="985" cy="868" rx="20" ry="8" fill="#cc2c24"/><ellipse cx="1072" cy="873" rx="36" ry="12.5" fill="#b8201c"/><ellipse cx="1070" cy="870" rx="18" ry="6.5" fill="#cc2c24"/><path d="M950 852L972 857L962 866L941 861Z" fill="#8a6a72"/><path d="M1008 884L1036 881L1040 886L1012 889Z" fill="#7c6468"/><path d="M1072 882L1100 879L1106 886L1078 889Z" fill="#8a7a7c"/><path d="M902 893H1139L1133 979H912Z" fill="url(#redfront)"/><path d="M892.5 879L1142.5 879L1142 893L1136 897H899L893 893Z" fill="#dcd0ce" opacity="0.93"/><path d="M893 885H1142" stroke="#fff" stroke-width="1.2" opacity="0.8"/><path d="M951.5 890L956 979M1092 890L1084 979" stroke="#e4cccc" stroke-width="2.2" opacity="0.85"/><path d="M897 893L912 979M1140 893L1133 979" stroke="#d4bcbc" stroke-width="3" opacity="0.8"/><rect x="904" y="979.3" width="232" height="5.6" fill="#70747a"/><path d="M909 977.2H1128" stroke="#0a0a0a" stroke-width="3"/><path d="M902.5 977.2L913 972V982.4Z" fill="#0a0a0a"/><path d="M1135 977.2L1124.5 972V982.4Z" fill="#0a0a0a"/><rect x="1026" y="818" width="112.8" height="45.7" fill="#a8aca6"/><rect x="1031" y="820.5" width="23" height="12" rx="1" fill="#544830"/><rect x="1071" y="820" width="23" height="12" rx="1" fill="#544830"/><rect x="1110" y="822" width="23" height="12" rx="1" fill="#544830"/><rect x="1031" y="848" width="23" height="12" rx="1" fill="#544830"/><rect x="1072.5" y="849.5" width="23" height="12" rx="1" fill="#544830"/><rect x="1112" y="848" width="23" height="12" rx="1" fill="#544830"/><path d="M1054 827H1071M1094 827H1110M1054 854H1072M1095 855H1112" stroke="#c5a884" stroke-width="0.7"/><path d="M841 923L885 913L889 931L845 941Z" fill="#8f9096"/><rect x="855" y="909" width="30" height="16" rx="3" fill="#d9d7d8" transform="rotate(-12 855 909)"/><rect x="867" y="912" width="9" height="3" fill="#c0392b" transform="rotate(-12 867 912)"/><rect x="881" y="899" width="5" height="24" rx="2.5" fill="#efe9e9" transform="rotate(-8 881 899)"/><rect x="839" y="915" width="22" height="18" rx="3" fill="#1c1b1f"/><circle cx="867" cy="929" r="7" fill="#26252a"/></g><text x="839.5" y="838" font-size="18.5">(j)</text><text x="914.3" y="845" font-size="19.5" textLength="189.2" lengthAdjust="spacingAndGlyphs">The loaded sponges</text><text x="896.2" y="937.6" font-size="27" textLength="238.3" lengthAdjust="spacingAndGlyphs">Wastewater + PMS</text><text x="993.4" y="967.7" font-size="18" textLength="55" lengthAdjust="spacingAndGlyphs">60 cm</text></g>
<g><clipPath id="cpk"><rect x="1146.9" y="809.5" width="310.5" height="176.3"/></clipPath><g clip-path="url(#cpk)"><rect x="1146.9" y="809.5" width="310.5" height="176.3" fill="#c6bcb2"/><rect x="1146.9" y="848" width="310.5" height="138" fill="#a2a4b6"/><path d="M1147 888Q1170 884 1185 872Q1192 866 1200 866" stroke="#1a191d" stroke-width="1.2" fill="none"/><path d="M1207 817L1403 820L1452 900L1447 920L1440 978H1205L1187 920L1181 899Z" fill="#d4cac8"/><path d="M1214 829L1398 832L1437 905H1196Z" fill="url(#pinkk)"/><path d="M1250 831L1378 833Q1402 850 1411 868Q1414 884 1400 892Q1370 903 1330 901Q1290 905 1250 901Q1226 897 1219 882Q1216 862 1232 846Z" fill="url(#olivek)"/><path d="M1258 831L1372 833L1378 846Q1320 838 1256 845Z" fill="#a09a70" opacity="0.85"/><path d="M1290 846Q1310 838 1330 848Q1320 866 1324 880Q1312 892 1300 880Q1306 862 1290 846Z" fill="#a09c80" opacity="0.9"/><path d="M1222 855Q1250 843 1275 852" stroke="#a6a288" stroke-width="5" fill="none" opacity="0.8"/><path d="M1345 852Q1380 850 1404 874" stroke="#a6a288" stroke-width="5" fill="none" opacity="0.8"/><path d="M1222 884Q1260 900 1300 898Q1350 902 1400 890" stroke="#a8a48c" stroke-width="4" fill="none" opacity="0.8"/><polygon points="1236,841 1268,847 1262,859 1232,852" fill="#3c3836"/><polygon points="1293,849 1323,851 1322,862 1300,863" fill="#3c3836"/><polygon points="1351,850 1383,849 1384,861 1354,862" fill="#3c3836"/><polygon points="1232,887 1268,889 1270,899 1230,897" fill="#3c3836"/><polygon points="1303,889 1338,889 1342,900 1308,901" fill="#3c3836"/><polygon points="1370,886 1402,889 1408,898 1374,898" fill="#3c3836"/><path d="M1232 887L1268 889L1267 893L1231 892Z" fill="#9a9a98"/><path d="M1307 893Q1320 890 1330 897L1326 903H1308Z" fill="#e070b0"/><path d="M1190 908H1448L1445 926Q1320 918 1194 926Z" fill="#dc94b8"/><path d="M1193 922Q1320 914 1446 922L1440 977H1207Z" fill="url(#tanfront)"/><path d="M1181 899L1452 900L1451 911L1445 916H1190L1182 911Z" fill="#ded6d4" opacity="0.92"/><path d="M1181 899L1207 817M1452 900L1403 820" stroke="#dcd2d0" stroke-width="4" opacity="0.9"/><path d="M1207 817L1403 820" stroke="#d8cecc" stroke-width="3"/><path d="M1245 913L1250 977M1395 913L1382 977" stroke="#d8ccc0" stroke-width="2.4" opacity="0.85"/><path d="M1285 818L1287 850M1349 820L1350 850" stroke="#f3dce6" stroke-width="1.6" opacity="0.8"/><path d="M1271 934L1278 948M1315 924L1319 926" stroke="#fff7e0" stroke-width="2" opacity="0.85"/><rect x="1200" y="978" width="225" height="5" fill="#6e7276"/><g transform="translate(1143 884) scale(0.78)"><path d="M4 22L48 12L52 30L8 40Z" fill="#8f9096"/><rect x="18" y="8" width="30" height="16" rx="3" fill="#d9d7d8" transform="rotate(-12 18 8)"/><rect x="30" y="11" width="9" height="3" fill="#c0392b" transform="rotate(-12 30 11)"/><rect x="44" y="-2" width="5" height="24" rx="2.5" fill="#efe9e9" transform="rotate(-8 44 -2)"/><rect x="2" y="14" width="22" height="18" rx="3" fill="#1c1b1f"/><circle cx="30" cy="28" r="7" fill="#26252a"/></g></g><text x="1158" y="839" font-size="18.5">(k)</text></g>
<defs><radialGradient id="bb" cx="0.38" cy="0.3" r="0.75" fx="0.36" fy="0.26"><stop offset="0" stop-color="#f4f4f4"/><stop offset="0.13" stop-color="#9a9a9a"/><stop offset="0.3" stop-color="#222"/><stop offset="0.6" stop-color="#000"/><stop offset="1" stop-color="#000"/></radialGradient></defs>
<rect x="407" y="993" width="1044.5" height="230" fill="none" stroke="#000" stroke-width="4.4"/>
<path d="M454.5 1223v9.7M549.48 1223v9.7M644.46 1223v9.7M739.44 1223v9.7M834.42 1223v9.7M929.4 1223v9.7M1024.38 1223v9.7M1119.36 1223v9.7M1214.34 1223v9.7M1309.32 1223v9.7M1404.3 1223v9.7M407.01 1223v6.2M501.99 1223v6.2M596.97 1223v6.2M691.95 1223v6.2M786.93 1223v6.2M881.91 1223v6.2M976.89 1223v6.2M1071.87 1223v6.2M1166.85 1223v6.2M1261.83 1223v6.2M1356.81 1223v6.2M1451.79 1223v6.2" stroke="#000" stroke-width="3.6" fill="none"/>
<g font-size="23" text-anchor="middle"><text x="454.5" y="1256">0</text><text x="549.48" y="1256">2</text><text x="644.46" y="1256">4</text><text x="739.44" y="1256">6</text><text x="834.42" y="1256">8</text><text x="929.4" y="1256">10</text><text x="1024.38" y="1256">12</text><text x="1119.36" y="1256">14</text><text x="1214.34" y="1256">16</text><text x="1309.32" y="1256">18</text><text x="1404.3" y="1256">20</text></g>
<path d="M407 1204.5h-9.7M407 1166h-9.7M407 1127.5h-9.7M407 1089h-9.7M407 1050.5h-9.7M407 1012h-9.7M407 1223.75h-6.2M407 1185.25h-6.2M407 1146.75h-6.2M407 1108.25h-6.2M407 1069.75h-6.2M407 1031.25h-6.2M407 992.75h-6.2" stroke="#000" stroke-width="3.6" fill="none"/>
<g font-size="23" text-anchor="end"><text x="393" y="1212.66">0.0</text><text x="393" y="1174.16">0.2</text><text x="393" y="1135.66">0.4</text><text x="393" y="1097.16">0.6</text><text x="393" y="1058.66">0.8</text><text x="393" y="1020.16">1.0</text></g>
<path d="M467.37 1019.7L536.61 1061.09M563.62 1073.8L630.32 1097.46M658.96 1106.3L724.94 1123.68M754.05 1130.9L819.81 1146.23M849.23 1152.04L914.59 1162.64M944.25 1167.14L1009.53 1176.41M1039.29 1180.17L1104.45 1187.44M1134.31 1190.31L1199.39 1195.59M1229.32 1197.65L1294.34 1201.34M1324.32 1202.55L1389.3 1204.14" stroke="#000" stroke-width="3.8" fill="none"/>
<circle cx="454.5" cy="1012" r="11.5" fill="url(#bb)"/><circle cx="549.48" cy="1068.79" r="11.5" fill="url(#bb)"/><circle cx="644.46" cy="1102.47" r="11.5" fill="url(#bb)"/><circle cx="739.44" cy="1127.5" r="11.5" fill="url(#bb)"/><circle cx="834.42" cy="1149.64" r="11.5" fill="url(#bb)"/><circle cx="929.4" cy="1165.04" r="11.5" fill="url(#bb)"/><circle cx="1024.38" cy="1178.51" r="11.5" fill="url(#bb)"/><circle cx="1119.36" cy="1189.1" r="11.5" fill="url(#bb)"/><circle cx="1214.34" cy="1196.8" r="11.5" fill="url(#bb)"/><circle cx="1309.32" cy="1202.19" r="11.5" fill="url(#bb)"/><circle cx="1404.3" cy="1204.5" r="11.5" fill="url(#bb)"/>
<path d="M922 1029.5H975" stroke="#000" stroke-width="3.8"/>
<circle cx="946.5" cy="1029.5" r="11.5" fill="url(#bb)"/>
<text x="977.5" y="1036.3" font-size="34.5" textLength="420" lengthAdjust="spacingAndGlyphs">SD removal in river water</text>
<text x="928.25" y="1287" font-size="34" text-anchor="middle" textLength="175" lengthAdjust="spacingAndGlyphs">Time (min)</text>
<text x="0" y="0" font-size="35" text-anchor="middle" textLength="79" lengthAdjust="spacingAndGlyphs" transform="translate(339.5 1108) rotate(-90)">C<tspan dy="7.7" font-size="21.7">t</tspan><tspan dy="-7.7">/C</tspan><tspan dy="7.7" font-size="21.7">0</tspan></text>
<text x="322" y="1029" font-size="18" font-weight="normal">(l)</text>
<path d="M326 1295.7H1443" stroke="#4472C4" stroke-width="3" stroke-dasharray="13.3 10.03"/>
<path d="M329 1720.8H1441" stroke="#4472C4" stroke-width="4.2" stroke-dasharray="13.3 10.03"/>
<g><defs><filter id="mblur" x="-2%" y="-2%" width="104%" height="104%"><feGaussianBlur stdDeviation="0.7"/></filter><linearGradient id="roofg" x1="0" x2="1" y1="1" y2="0"><stop offset="0" stop-color="#8cbde4"/><stop offset="0.5" stop-color="#6aa8da"/><stop offset="1" stop-color="#4f94cf"/></linearGradient><linearGradient id="tankg" x1="0" x2="0" y1="0" y2="1"><stop offset="0" stop-color="#7cc4ee"/><stop offset="0.45" stop-color="#4aa6e4"/><stop offset="1" stop-color="#2f8fdc"/></linearGradient></defs><clipPath id="cpm"><rect x="354.2" y="1325" width="446.4" height="317"/></clipPath><g clip-path="url(#cpm)"><g filter="url(#mblur)"><rect x="351.2" y="1322" width="452.4" height="323" fill="#4c9a38"/><polygon points="350,1320 671.54,1320 671.54,1348.44 350,1348.44" fill="#2f7436"/><ellipse cx="384.63" cy="1333.6" rx="8.41" ry="6.43" fill="#3f9a3a" opacity="1"/><ellipse cx="401.94" cy="1336.57" rx="8.41" ry="6.43" fill="#2a6a30" opacity="1"/><ellipse cx="419.26" cy="1339.54" rx="8.41" ry="6.43" fill="#57a83e" opacity="1"/><ellipse cx="436.57" cy="1333.6" rx="8.41" ry="6.43" fill="#3f9a3a" opacity="1"/><ellipse cx="453.88" cy="1336.57" rx="8.41" ry="6.43" fill="#2a6a30" opacity="1"/><ellipse cx="471.2" cy="1339.54" rx="8.41" ry="6.43" fill="#57a83e" opacity="1"/><ellipse cx="488.51" cy="1333.6" rx="8.41" ry="6.43" fill="#3f9a3a" opacity="1"/><ellipse cx="505.82" cy="1336.57" rx="8.41" ry="6.43" fill="#2a6a30" opacity="1"/><ellipse cx="523.14" cy="1339.54" rx="8.41" ry="6.43" fill="#57a83e" opacity="1"/><ellipse cx="540.45" cy="1333.6" rx="8.41" ry="6.43" fill="#3f9a3a" opacity="1"/><ellipse cx="557.77" cy="1336.57" rx="8.41" ry="6.43" fill="#2a6a30" opacity="1"/><ellipse cx="575.08" cy="1339.54" rx="8.41" ry="6.43" fill="#57a83e" opacity="1"/><ellipse cx="592.39" cy="1333.6" rx="8.41" ry="6.43" fill="#3f9a3a" opacity="1"/><ellipse cx="609.71" cy="1336.57" rx="8.41" ry="6.43" fill="#2a6a30" opacity="1"/><ellipse cx="627.02" cy="1339.54" rx="8.41" ry="6.43" fill="#57a83e" opacity="1"/><ellipse cx="644.34" cy="1333.6" rx="8.41" ry="6.43" fill="#3f9a3a" opacity="1"/><polygon points="382.15,1346.71 466.25,1345.72 466.25,1349.19 382.15,1350.67" fill="#a9b4ae"/><polygon points="350,1320 379.68,1320 387.6,1365.02 350,1383.81" fill="#d6d79c"/><polygon points="357.42,1328.66 363.6,1327.42 364.35,1333.6 358.16,1334.84" fill="#8fa6b4"/><polygon points="368.55,1328.66 374.73,1327.42 375.48,1333.6 369.29,1334.84" fill="#8fa6b4"/><polygon points="357.42,1339.79 363.6,1338.55 364.35,1344.73 358.16,1345.97" fill="#8fa6b4"/><polygon points="368.55,1339.79 374.73,1338.55 375.48,1344.73 369.29,1345.97" fill="#8fa6b4"/><polygon points="357.42,1350.92 363.6,1349.68 364.35,1355.86 358.16,1357.1" fill="#8fa6b4"/><polygon points="368.55,1350.92 374.73,1349.68 375.48,1355.86 369.29,1357.1" fill="#8fa6b4"/><polygon points="357.42,1362.05 363.6,1360.81 364.35,1366.99 358.16,1368.23" fill="#8fa6b4"/><polygon points="368.55,1362.05 374.73,1360.81 375.48,1366.99 369.29,1368.23" fill="#8fa6b4"/><polygon points="350,1383.81 387.6,1365.02 386.11,1350.18 453.88,1349.19 350,1421.41" fill="#56ac3a"/><ellipse cx="404.42" cy="1364.52" rx="22.26" ry="9.89" fill="#6cc044" opacity="0.7"/><polygon points="353.71,1394.2 364.84,1392.97 365.34,1400.39 353.71,1401.62" fill="#2e6ad0"/><polygon points="350,1455.54 504.59,1443.18 494.69,1468.4 350,1480.77" fill="#4a9c30"/><polygon points="350,1477.31 484.8,1469.89 466.25,1498.58 350,1504.27" fill="#a9c054"/><ellipse cx="411.84" cy="1490.67" rx="49.47" ry="9.4" fill="#c2cc6c" opacity="0.8"/><ellipse cx="453.88" cy="1480.77" rx="22.26" ry="7.42" fill="#6aa83c" opacity="0.8"/><polygon points="350,1498.09 466.25,1497.59 448.94,1515.89 465.01,1514.9 395.76,1644.02 350,1644.02" fill="#2b6e30"/><polygon points="350,1494.38 372.26,1498.09 379.68,1525.29 364.84,1542.61 350,1542.61" fill="#3a3442"/><ellipse cx="389.57" cy="1498.09" rx="8.66" ry="11.13" fill="#1f5a2a" opacity="1"/><ellipse cx="426.68" cy="1515.4" rx="17.31" ry="17.31" fill="#2f8038" opacity="1"/><ellipse cx="409.36" cy="1547.55" rx="17.31" ry="19.79" fill="#3a8a40" opacity="1"/><ellipse cx="377.21" cy="1582.18" rx="24.73" ry="22.26" fill="#2a6a34" opacity="1"/><ellipse cx="364.84" cy="1624.23" rx="17.31" ry="19.79" fill="#235a2c" opacity="1"/><ellipse cx="387.1" cy="1535.19" rx="12.37" ry="12.37" fill="#1d4a26" opacity="1"/><ellipse cx="431.62" cy="1493.14" rx="14.84" ry="6.18" fill="#4a9a3a" opacity="1"/><ellipse cx="399.47" cy="1604.44" rx="14.84" ry="14.84" fill="#1f5028" opacity="1"/><polygon points="448.44,1515.89 465.01,1513.42 400.7,1644.02 380.92,1644.02" fill="#3f9c2e"/><polygon points="555.29,1349.19 578.79,1349.19 573.84,1360.81 563.21,1394.2 547.87,1426.85 535.01,1468.4 523.14,1510.95 508.3,1567.34 496.43,1614.34 488.51,1644.02 394.52,1644.02 464.27,1514.9 479.11,1478.3 498.4,1449.11 528.58,1401.62 547.87,1364.52" fill="#d3cdbb"/><polyline points="500.88,1451.09 474.91,1493.14 450.17,1515.4" fill="none" stroke="#3a78cc" stroke-width="3.46" opacity="1"/><polygon points="350,1419.43 471.2,1335.34 536,1335.34 462.79,1425.86 350,1424.87" fill="url(#roofg)"/><polyline points="502.11,1335.83 402.44,1424.87" fill="none" stroke="#a9d0ee" stroke-width="1.24" opacity="0.9"/><polyline points="350,1419.93 471.2,1335.83 536,1335.83" fill="none" stroke="#3b82c4" stroke-width="2.23" opacity="1"/><polygon points="350,1425.37 462.79,1426.36 464.27,1454.8 350,1456.53" fill="#a8cde9"/><polygon points="350,1442.19 463.28,1441.2 464.27,1454.8 350,1456.53" fill="#e9f0f4"/><polygon points="352.97,1444.17 372.76,1443.67 372.76,1451.59 352.97,1452.08" fill="#31506e"/><polygon points="381.66,1444.17 401.45,1443.67 401.45,1451.59 381.66,1452.08" fill="#31506e"/><polygon points="410.35,1444.17 430.14,1443.67 430.14,1451.59 410.35,1452.08" fill="#31506e"/><polygon points="439.04,1444.17 458.83,1443.67 458.83,1451.59 439.04,1452.08" fill="#31506e"/><polyline points="350,1434.27 462.79,1434.27" fill="none" stroke="#6c8caa" stroke-width="1.24" opacity="1"/><polygon points="462.79,1426.36 536,1336.82 537.24,1357.1 478.62,1439.22 464.77,1454.8" fill="#8dbfe4"/><polyline points="467.49,1443.67 531.8,1357.1" fill="none" stroke="#4a6e94" stroke-width="3.46" opacity="0.8"/><polygon points="537.98,1351.66 555.79,1351.66 554.8,1359.57 536,1360.56" fill="#2f8c2a"/><polygon points="524.38,1364.03 549.11,1363.53 542.93,1379.36 520.67,1380.35" fill="#2f8c2a"/><polygon points="512.01,1383.81 538.47,1383.32 531.8,1399.64 508.3,1400.63" fill="#2f8c2a"/><polygon points="491.48,1405.33 526.11,1404.59 508.3,1435.01 485.54,1433.78" fill="#2f8c2a"/><polygon points="580.03,1346.71 587.94,1346.71 573.1,1395.44 563.21,1394.2" fill="#3e9a2e"/><polygon points="531.05,1467.91 538.47,1467.91 528.58,1503.53 520.67,1501.05" fill="#2f8c2a"/><polygon points="516.21,1510.45 528.58,1509.96 503.85,1573.28 493.46,1572.29" fill="#3a9a2c"/><polygon points="573.84,1390.49 683.91,1394.2 696.28,1401.62 751.93,1613.1 735.85,1629.18 597.34,1629.18 597.34,1401.62" fill="#c5c3b5"/><polygon points="537.98,1510.45 599.81,1515.4 599.81,1629.18 488.51,1629.18 508.3,1567.34" fill="#cdc9b8"/><polygon points="591.16,1345.97 655.47,1345.97 665.85,1390.49 575.08,1390.49" fill="#3f97da"/><polygon points="593.63,1347.7 606.49,1347.7 596.6,1388.76 578.79,1388.76" fill="#66b6ea"/><polyline points="600.06,1347.7 587.69,1388.76" fill="none" stroke="#2f86d2" stroke-width="1.48" opacity="0.7"/><polygon points="609.46,1347.7 622.32,1347.7 618.86,1388.76 601.05,1388.76" fill="#66b6ea"/><polyline points="615.89,1347.7 609.96,1388.76" fill="none" stroke="#2f86d2" stroke-width="1.48" opacity="0.7"/><polygon points="625.29,1347.7 638.15,1347.7 641.12,1388.76 623.31,1388.76" fill="#66b6ea"/><polyline points="631.72,1347.7 632.22,1388.76" fill="none" stroke="#2f86d2" stroke-width="1.48" opacity="0.7"/><polygon points="641.12,1347.7 653.98,1347.7 663.38,1388.76 645.57,1388.76" fill="#66b6ea"/><polyline points="647.55,1347.7 654.48,1388.76" fill="none" stroke="#2f86d2" stroke-width="1.48" opacity="0.7"/><polyline points="588.68,1371.94 664.12,1371.94" fill="none" stroke="#1f62d0" stroke-width="1.48" opacity="1"/><polygon points="573.84,1390.49 671.54,1390.49 671.54,1399.64 573.84,1399.64" fill="#8fa2a6"/><polygon points="630.73,1320 662.14,1320 662.14,1333.85 630.73,1333.85" fill="#2f7ad8"/><polygon points="657.94,1359.57 673.03,1359.57 673.03,1367.49 657.94,1367.49" fill="#e9eded"/><ellipse cx="646.81" cy="1404.59" rx="22.76" ry="8.9" fill="#8c948c" opacity="1"/><ellipse cx="646.81" cy="1405.33" rx="16.82" ry="5.94" fill="#5c6c6a" opacity="1"/><polygon points="566.42,1402.86 595.36,1402.86 583.98,1476.32 535.51,1474.84" fill="#47372f"/><polygon points="534.27,1475.82 583.98,1477.31 586.46,1515.89 535.51,1510.95" fill="#dccba9"/><polygon points="595.36,1402.86 600.31,1409.04 590.42,1513.42 586.46,1515.89 583.98,1477.31" fill="#c6baa2"/><polyline points="535.01,1476.32 583.98,1477.8" fill="none" stroke="#b04a30" stroke-width="1.24" opacity="0.8"/><polygon points="618.37,1416.46 645.57,1416.46 659.67,1604.94 607.23,1604.94" fill="url(#tankg)"/><polygon points="652.25,1416.46 681.44,1416.46 723.98,1604.94 664.62,1604.94" fill="url(#tankg)"/><path d="M620.34 1423.88Q631.97 1419.43 643.59 1423.88" stroke="#d8f0fc" stroke-width="1.24" fill="none" opacity="0.75"/><path d="M654.23 1423.88Q666.84 1419.43 679.46 1423.88" stroke="#d8f0fc" stroke-width="1.24" fill="none" opacity="0.75"/><path d="M619.76 1433Q632.05 1428.36 644.34 1433" stroke="#d8f0fc" stroke-width="1.3" fill="none" opacity="0.75"/><path d="M654.88 1433Q668.29 1428.36 681.7 1433" stroke="#d8f0fc" stroke-width="1.3" fill="none" opacity="0.75"/><path d="M619.17 1442.11Q632.13 1437.29 645.08 1442.11" stroke="#d8f0fc" stroke-width="1.37" fill="none" opacity="0.75"/><path d="M655.53 1442.11Q669.73 1437.29 683.94 1442.11" stroke="#d8f0fc" stroke-width="1.37" fill="none" opacity="0.75"/><path d="M618.59 1451.22Q632.2 1446.22 645.82 1451.22" stroke="#d8f0fc" stroke-width="1.43" fill="none" opacity="0.75"/><path d="M656.18 1451.22Q671.18 1446.22 686.18 1451.22" stroke="#d8f0fc" stroke-width="1.43" fill="none" opacity="0.75"/><path d="M618 1460.33Q632.28 1455.15 646.56 1460.33" stroke="#d8f0fc" stroke-width="1.5" fill="none" opacity="0.75"/><path d="M656.83 1460.33Q672.62 1455.15 688.41 1460.33" stroke="#d8f0fc" stroke-width="1.5" fill="none" opacity="0.75"/><path d="M617.41 1469.45Q632.36 1464.08 647.3 1469.45" stroke="#d8f0fc" stroke-width="1.56" fill="none" opacity="0.75"/><path d="M657.48 1469.45Q674.07 1464.08 690.65 1469.45" stroke="#d8f0fc" stroke-width="1.56" fill="none" opacity="0.75"/><path d="M616.83 1478.56Q632.44 1473.01 648.05 1478.56" stroke="#d8f0fc" stroke-width="1.63" fill="none" opacity="0.75"/><path d="M658.13 1478.56Q675.51 1473.01 692.89 1478.56" stroke="#d8f0fc" stroke-width="1.63" fill="none" opacity="0.75"/><path d="M616.24 1487.67Q632.52 1481.94 648.79 1487.67" stroke="#d8f0fc" stroke-width="1.69" fill="none" opacity="0.75"/><path d="M658.79 1487.67Q676.96 1481.94 695.13 1487.67" stroke="#d8f0fc" stroke-width="1.69" fill="none" opacity="0.75"/><path d="M615.66 1496.78Q632.59 1490.87 649.53 1496.78" stroke="#d8f0fc" stroke-width="1.76" fill="none" opacity="0.75"/><path d="M659.44 1496.78Q678.4 1490.87 697.37 1496.78" stroke="#d8f0fc" stroke-width="1.76" fill="none" opacity="0.75"/><path d="M615.07 1505.9Q632.67 1499.8 650.27 1505.9" stroke="#8fd2f6" stroke-width="1.82" fill="none" opacity="0.75"/><path d="M660.09 1505.9Q679.85 1499.8 699.61 1505.9" stroke="#8fd2f6" stroke-width="1.82" fill="none" opacity="0.75"/><path d="M614.49 1515.01Q632.75 1508.73 651.01 1515.01" stroke="#8fd2f6" stroke-width="1.89" fill="none" opacity="0.75"/><path d="M660.74 1515.01Q681.29 1508.73 701.85 1515.01" stroke="#8fd2f6" stroke-width="1.89" fill="none" opacity="0.75"/><path d="M613.9 1524.12Q632.83 1517.66 651.76 1524.12" stroke="#8fd2f6" stroke-width="1.95" fill="none" opacity="0.75"/><path d="M661.39 1524.12Q682.74 1517.66 704.09 1524.12" stroke="#8fd2f6" stroke-width="1.95" fill="none" opacity="0.75"/><path d="M613.31 1533.23Q632.91 1526.59 652.5 1533.23" stroke="#8fd2f6" stroke-width="2.02" fill="none" opacity="0.75"/><path d="M662.04 1533.23Q684.18 1526.59 706.33 1533.23" stroke="#8fd2f6" stroke-width="2.02" fill="none" opacity="0.75"/><path d="M612.73 1542.35Q632.98 1535.53 653.24 1542.35" stroke="#8fd2f6" stroke-width="2.08" fill="none" opacity="0.75"/><path d="M662.69 1542.35Q685.63 1535.53 708.57 1542.35" stroke="#8fd2f6" stroke-width="2.08" fill="none" opacity="0.75"/><path d="M612.14 1551.46Q633.06 1544.46 653.98 1551.46" stroke="#8fd2f6" stroke-width="2.15" fill="none" opacity="0.75"/><path d="M663.34 1551.46Q687.07 1544.46 710.81 1551.46" stroke="#8fd2f6" stroke-width="2.15" fill="none" opacity="0.75"/><path d="M611.56 1560.57Q633.14 1553.39 654.72 1560.57" stroke="#8fd2f6" stroke-width="2.21" fill="none" opacity="0.75"/><path d="M663.99 1560.57Q688.52 1553.39 713.04 1560.57" stroke="#8fd2f6" stroke-width="2.21" fill="none" opacity="0.75"/><path d="M610.97 1569.68Q633.22 1562.32 655.47 1569.68" stroke="#8fd2f6" stroke-width="2.28" fill="none" opacity="0.75"/><path d="M664.64 1569.68Q689.96 1562.32 715.28 1569.68" stroke="#8fd2f6" stroke-width="2.28" fill="none" opacity="0.75"/><path d="M610.39 1578.8Q633.3 1571.25 656.21 1578.8" stroke="#8fd2f6" stroke-width="2.34" fill="none" opacity="0.75"/><path d="M665.29 1578.8Q691.41 1571.25 717.52 1578.8" stroke="#8fd2f6" stroke-width="2.34" fill="none" opacity="0.75"/><path d="M609.8 1587.91Q633.37 1580.18 656.95 1587.91" stroke="#8fd2f6" stroke-width="2.41" fill="none" opacity="0.75"/><path d="M665.95 1587.91Q692.85 1580.18 719.76 1587.91" stroke="#8fd2f6" stroke-width="2.41" fill="none" opacity="0.75"/><path d="M609.21 1597.02Q633.45 1589.11 657.69 1597.02" stroke="#8fd2f6" stroke-width="2.47" fill="none" opacity="0.75"/><path d="M666.6 1597.02Q694.3 1589.11 722 1597.02" stroke="#8fd2f6" stroke-width="2.47" fill="none" opacity="0.75"/><polygon points="599.81,1611.86 736.35,1611.86 733.87,1628.68 601.05,1628.68" fill="#587a92"/><polyline points="634.44,1629.18 659.18,1613.1" fill="none" stroke="#8a9aa4" stroke-width="3.46" opacity="1"/><polyline points="683.91,1418.94 683.91,1410.03 648.29,1410.03 663.13,1557.94" fill="none" stroke="#1a5bd2" stroke-width="2.72" opacity="1"/><polyline points="599.81,1558.93 728.43,1558.93 730.91,1577.23" fill="none" stroke="#1a5bd2" stroke-width="3.71" opacity="1"/><polyline points="684.41,1559.92 697.76,1644.02" fill="none" stroke="#1a5bd2" stroke-width="3.22" opacity="1"/><polyline points="513.25,1563.88 599.81,1563.88" fill="none" stroke="#1f62d0" stroke-width="1.98" opacity="1"/><polyline points="609.71,1478.3 691.33,1478.3" fill="none" stroke="#1f62d0" stroke-width="1.48" opacity="0.9"/><polyline points="555.29,1512.93 540.45,1564.87" fill="none" stroke="#1f62d0" stroke-width="1.98" opacity="1"/><polygon points="662.14,1320 735.85,1320 802.63,1394.2 802.63,1594.55 770.48,1567.34 736.35,1517.87 716.56,1468.4 696.77,1418.94 679.46,1394.2 669.56,1349.68" fill="#2e7b2f"/><ellipse cx="696.28" cy="1349.68" rx="19.79" ry="22.26" fill="#3f9438" opacity="1"/><ellipse cx="725.96" cy="1384.31" rx="22.26" ry="27.21" fill="#2a6c2c" opacity="1"/><ellipse cx="745.75" cy="1423.88" rx="19.79" ry="29.68" fill="#3a8c36" opacity="1"/><ellipse cx="716.06" cy="1423.88" rx="14.84" ry="22.26" fill="#4fa040" opacity="1"/><ellipse cx="770.48" cy="1458.51" rx="19.79" ry="32.15" fill="#2a6c2c" opacity="1"/><ellipse cx="745.75" cy="1480.77" rx="14.84" ry="22.26" fill="#3f9438" opacity="1"/><ellipse cx="790.27" cy="1522.82" rx="14.84" ry="34.63" fill="#2f7a30" opacity="1"/><ellipse cx="681.44" cy="1369.47" rx="9.89" ry="17.31" fill="#55a844" opacity="1"/><ellipse cx="706.17" cy="1483.25" rx="9.89" ry="14.84" fill="#4aa23c" opacity="1"/><ellipse cx="721.01" cy="1525.29" rx="9.89" ry="11.13" fill="#57ac42" opacity="1"/><ellipse cx="765.53" cy="1394.2" rx="14.84" ry="14.84" fill="#3a8c36" opacity="1"/><polygon points="732.88,1320 743.77,1320 802.63,1372.44 802.63,1392.22" fill="#8c9ca4"/><polyline points="738.33,1320 802.63,1381.84" fill="none" stroke="#e4e8ea" stroke-width="0.74" opacity="1"/><polygon points="743.77,1320 802.63,1320 802.63,1370.7" fill="#2f7a36"/><polygon points="765.53,1320 802.63,1320 802.63,1335.34 770.48,1332.37" fill="#9cb2ba"/><polygon points="716.56,1468.4 736.35,1517.87 770.48,1567.34 802.63,1594.55 802.63,1644.02 735.85,1644.02 735.85,1613.1 751.93,1613.1 696.28,1418.94" fill="#c6c0ac"/><ellipse cx="782.85" cy="1554.97" rx="11.13" ry="14.84" fill="#4fa438" opacity="1"/><ellipse cx="792.74" cy="1594.55" rx="9.89" ry="14.84" fill="#4fa438" opacity="1"/><ellipse cx="716.06" cy="1522.82" rx="8.66" ry="9.89" fill="#4fa438" opacity="1"/><ellipse cx="706.17" cy="1478.3" rx="8.66" ry="12.37" fill="#4fa438" opacity="1"/><ellipse cx="785.32" cy="1624.23" rx="9.89" ry="9.89" fill="#4fa438" opacity="1"/><polyline points="781.61,1394.2 743.27,1567.34 745.75,1611.86" fill="none" stroke="#c4d2de" stroke-width="0.99" opacity="0.9"/><polyline points="796.45,1404.1 770.48,1611.86" fill="none" stroke="#c4d2de" stroke-width="0.99" opacity="0.9"/><polyline points="781.61,1399.15 795.21,1413.99" fill="none" stroke="#c4d2de" stroke-width="0.74" opacity="0.8"/><polyline points="777.49,1417.84 792.6,1434.88" fill="none" stroke="#c4d2de" stroke-width="0.74" opacity="0.8"/><polyline points="773.37,1436.53 789.99,1455.76" fill="none" stroke="#c4d2de" stroke-width="0.74" opacity="0.8"/><polyline points="769.24,1455.21 787.38,1476.65" fill="none" stroke="#c4d2de" stroke-width="0.74" opacity="0.8"/><polyline points="765.12,1473.9 784.77,1497.54" fill="none" stroke="#c4d2de" stroke-width="0.74" opacity="0.8"/><polyline points="761,1492.59 782.16,1518.42" fill="none" stroke="#c4d2de" stroke-width="0.74" opacity="0.8"/><polyline points="756.88,1511.28 779.55,1539.31" fill="none" stroke="#c4d2de" stroke-width="0.74" opacity="0.8"/><polyline points="752.75,1529.97 776.94,1560.2" fill="none" stroke="#c4d2de" stroke-width="0.74" opacity="0.8"/><polyline points="748.63,1548.65 774.33,1581.08" fill="none" stroke="#c4d2de" stroke-width="0.74" opacity="0.8"/><polygon points="782.85,1381.34 792.74,1381.34 758.61,1570.31 745.75,1570.31" fill="#3c92d4"/><polygon points="788.78,1381.34 792.74,1381.34 758.61,1570.31 753.66,1570.31" fill="#2c78ba"/><polygon points="735.85,1577.23 758.61,1577.23 758.61,1609.88 735.85,1609.88" fill="#2f80c8"/><polygon points="531.8,1512.93 570.63,1512.93 570.63,1530.73 531.8,1530.73" fill="#3a8ad8"/><polyline points="534.27,1517.87 568.9,1517.87" fill="none" stroke="#8cc8f2" stroke-width="1.48" opacity="0.8"/><polygon points="523.14,1530.73 583,1530.73 583,1557.94 520.67,1557.94" fill="#8fa8b4"/><polygon points="510.77,1563.88 548.37,1563.88 545.89,1595.04 508.3,1595.04" fill="#7a9eae"/><polygon points="502.11,1595.04 538.47,1595.04 540.95,1627.2 503.35,1627.2" fill="#485866"/><polygon points="510.77,1595.04 534.27,1595.04 533.03,1601.97 512.01,1601.97" fill="#2e2a28"/><polygon points="547.87,1572.78 574.09,1569.81 578.05,1582.18 573.1,1612.36 540.45,1613.59" fill="#f1f3f3"/><polygon points="547.87,1613.59 570.63,1613.1 570.63,1627.2 547.87,1627.2" fill="#86a8da"/><polygon points="488.51,1628.19 802.63,1628.19 802.63,1644.02 488.51,1644.02" fill="#cac6b6"/><polygon points="743.27,1634.12 775.43,1634.12 775.43,1644.02 743.27,1644.02" fill="#eeeeea"/><ellipse cx="612.18" cy="1637.83" rx="14.84" ry="5.44" fill="#4fa438" opacity="1"/><ellipse cx="483.56" cy="1619.78" rx="8.9" ry="12.37" fill="#2f8a2a" opacity="1"/><polyline points="498.4,1611.86 488.51,1644.02" fill="none" stroke="#b8c4cc" stroke-width="1.98" opacity="1"/></g></g></g>
<text x="321.5" y="1328" font-size="18">(m)</text>
<text x="819" y="1325.5" font-size="18">(n)</text>
<text x="819" y="1445" font-size="18">(o)</text>
<text x="424.5" y="1682.5" font-size="26" textLength="281" lengthAdjust="spacingAndGlyphs">Real Pharmaceuticals</text>
<g><defs><linearGradient id="nbg" x1="0" x2="1" y1="0" y2="0"><stop offset="0" stop-color="#d8c98e"/><stop offset="0.06" stop-color="#ece0ae"/><stop offset="0.2" stop-color="#efe9d2"/><stop offset="0.45" stop-color="#ecebe6"/><stop offset="0.7" stop-color="#e4e4e4"/><stop offset="1" stop-color="#f0f0f0"/></linearGradient><linearGradient id="ntop" x1="0" x2="0" y1="0" y2="1"><stop offset="0" stop-color="#a29e94"/><stop offset="0.6" stop-color="#b9b5ab" stop-opacity="0.9"/><stop offset="1" stop-color="#c8c4ba" stop-opacity="0"/></linearGradient><linearGradient id="ntab" x1="0" x2="1" y1="0" y2="0"><stop offset="0" stop-color="#a6a5b6"/><stop offset="0.35" stop-color="#929cca"/><stop offset="1" stop-color="#93a2d4"/></linearGradient><filter id="nblur" x="-2%" y="-5%" width="104%" height="110%"><feGaussianBlur stdDeviation="0.8"/></filter></defs><clipPath id="cpn"><rect x="884.1" y="1300" width="496.3" height="143.2"/></clipPath><g clip-path="url(#cpn)"><g filter="url(#nblur)"><rect x="881.1" y="1297" width="502.3" height="149.2" fill="url(#nbg)"/><rect x="881.1" y="1297" width="502.3" height="36" fill="url(#ntop)"/><path d="M881.1 1426L1383.4 1419V1448H881.1Z" fill="url(#ntab)"/><rect x="900.6" y="1304.6" width="29" height="28.4" rx="3.5" fill="#e4dcc0" opacity="0.55"/><rect x="901.6" y="1305.1" width="27" height="25.4" rx="3" fill="none" stroke="#fff" stroke-opacity="0.5" stroke-width="1"/><path d="M899.1 1311.6Q915.1 1313.8 931.1 1310.8" stroke="#fff" stroke-opacity="0.6" stroke-width="1.5" fill="none"/><path d="M899.6 1313.4Q915.1 1315.6 930.6 1312.6" stroke="#5a5648" stroke-opacity="0.22" stroke-width="1" fill="none"/><path d="M899.1 1316.8Q915.1 1319 931.1 1316" stroke="#fff" stroke-opacity="0.6" stroke-width="1.5" fill="none"/><path d="M899.6 1318.6Q915.1 1320.8 930.6 1317.8" stroke="#5a5648" stroke-opacity="0.22" stroke-width="1" fill="none"/><path d="M899.1 1322Q915.1 1324.2 931.1 1321.2" stroke="#fff" stroke-opacity="0.6" stroke-width="1.5" fill="none"/><path d="M899.6 1323.8Q915.1 1326 930.6 1323" stroke="#5a5648" stroke-opacity="0.22" stroke-width="1" fill="none"/><path d="M891.6 1337Q891.6 1327 900.6 1326H929.6Q938.6 1327 938.6 1337V1425.5Q938.6 1434.5 928.6 1435H901.6Q891.6 1434.5 891.6 1425.5Z" fill="#c9a95c"/><path d="M891.6 1422.5Q915.1 1426.5 938.6 1422.5V1425.5Q938.6 1434.5 928.6 1435H901.6Q891.6 1434.5 891.6 1425.5Z" fill="#fff" opacity="0.22"/><path d="M924.1 1336V1430.5" stroke="#fff" stroke-opacity="0.55" stroke-width="1.3"/><rect x="934.1" y="1336" width="3.5" height="88.5" fill="#fff" opacity="0.22"/><rect x="892.1" y="1336" width="3" height="88.5" fill="#3a3420" opacity="0.10"/><path d="M893.6 1422.5Q915.1 1426 936.6 1422.5" stroke="#fff" stroke-opacity="0.55" stroke-width="1" fill="none"/><rect x="959.5" y="1304.6" width="29" height="28.4" rx="3.5" fill="#e2dcc4" opacity="0.55"/><rect x="960.5" y="1305.1" width="27" height="25.4" rx="3" fill="none" stroke="#fff" stroke-opacity="0.5" stroke-width="1"/><path d="M958 1311.6Q974 1313.8 990 1310.8" stroke="#fff" stroke-opacity="0.6" stroke-width="1.5" fill="none"/><path d="M958.5 1313.4Q974 1315.6 989.5 1312.6" stroke="#5a5648" stroke-opacity="0.22" stroke-width="1" fill="none"/><path d="M958 1316.8Q974 1319 990 1316" stroke="#fff" stroke-opacity="0.6" stroke-width="1.5" fill="none"/><path d="M958.5 1318.6Q974 1320.8 989.5 1317.8" stroke="#5a5648" stroke-opacity="0.22" stroke-width="1" fill="none"/><path d="M958 1322Q974 1324.2 990 1321.2" stroke="#fff" stroke-opacity="0.6" stroke-width="1.5" fill="none"/><path d="M958.5 1323.8Q974 1326 989.5 1323" stroke="#5a5648" stroke-opacity="0.22" stroke-width="1" fill="none"/><path d="M952 1337Q952 1327 961 1326H987Q996 1327 996 1337V1425.5Q996 1434.5 986 1435H962Q952 1434.5 952 1425.5Z" fill="#cfbe7e"/><path d="M952 1422.5Q974 1426.5 996 1422.5V1425.5Q996 1434.5 986 1435H962Q952 1434.5 952 1425.5Z" fill="#fff" opacity="0.22"/><path d="M983 1336V1430.5" stroke="#fff" stroke-opacity="0.55" stroke-width="1.3"/><rect x="991.5" y="1336" width="3.5" height="88.5" fill="#fff" opacity="0.22"/><rect x="952.5" y="1336" width="3" height="88.5" fill="#3a3420" opacity="0.10"/><path d="M954 1422.5Q974 1426 994 1422.5" stroke="#fff" stroke-opacity="0.55" stroke-width="1" fill="none"/><rect x="1019.6" y="1304.6" width="29" height="28.4" rx="3.5" fill="#dedac8" opacity="0.55"/><rect x="1020.6" y="1305.1" width="27" height="25.4" rx="3" fill="none" stroke="#fff" stroke-opacity="0.5" stroke-width="1"/><path d="M1018.1 1311.6Q1034.1 1313.8 1050.1 1310.8" stroke="#fff" stroke-opacity="0.6" stroke-width="1.5" fill="none"/><path d="M1018.6 1313.4Q1034.1 1315.6 1049.6 1312.6" stroke="#5a5648" stroke-opacity="0.22" stroke-width="1" fill="none"/><path d="M1018.1 1316.8Q1034.1 1319 1050.1 1316" stroke="#fff" stroke-opacity="0.6" stroke-width="1.5" fill="none"/><path d="M1018.6 1318.6Q1034.1 1320.8 1049.6 1317.8" stroke="#5a5648" stroke-opacity="0.22" stroke-width="1" fill="none"/><path d="M1018.1 1322Q1034.1 1324.2 1050.1 1321.2" stroke="#fff" stroke-opacity="0.6" stroke-width="1.5" fill="none"/><path d="M1018.6 1323.8Q1034.1 1326 1049.6 1323" stroke="#5a5648" stroke-opacity="0.22" stroke-width="1" fill="none"/><path d="M1012.6 1337Q1012.6 1327 1021.6 1326H1046.6Q1055.6 1327 1055.6 1337V1425.5Q1055.6 1434.5 1045.6 1435H1022.6Q1012.6 1434.5 1012.6 1425.5Z" fill="#cac190"/><path d="M1012.6 1422.5Q1034.1 1426.5 1055.6 1422.5V1425.5Q1055.6 1434.5 1045.6 1435H1022.6Q1012.6 1434.5 1012.6 1425.5Z" fill="#fff" opacity="0.22"/><path d="M1043.1 1336V1430.5" stroke="#fff" stroke-opacity="0.55" stroke-width="1.3"/><rect x="1051.1" y="1336" width="3.5" height="88.5" fill="#fff" opacity="0.22"/><rect x="1013.1" y="1336" width="3" height="88.5" fill="#3a3420" opacity="0.10"/><path d="M1014.6 1422.5Q1034.1 1426 1053.6 1422.5" stroke="#fff" stroke-opacity="0.55" stroke-width="1" fill="none"/><rect x="1080.7" y="1304.6" width="29" height="28.4" rx="3.5" fill="#d8d5ca" opacity="0.55"/><rect x="1081.7" y="1305.1" width="27" height="25.4" rx="3" fill="none" stroke="#fff" stroke-opacity="0.5" stroke-width="1"/><path d="M1079.2 1311.6Q1095.2 1313.8 1111.2 1310.8" stroke="#fff" stroke-opacity="0.6" stroke-width="1.5" fill="none"/><path d="M1079.7 1313.4Q1095.2 1315.6 1110.7 1312.6" stroke="#5a5648" stroke-opacity="0.22" stroke-width="1" fill="none"/><path d="M1079.2 1316.8Q1095.2 1319 1111.2 1316" stroke="#fff" stroke-opacity="0.6" stroke-width="1.5" fill="none"/><path d="M1079.7 1318.6Q1095.2 1320.8 1110.7 1317.8" stroke="#5a5648" stroke-opacity="0.22" stroke-width="1" fill="none"/><path d="M1079.2 1322Q1095.2 1324.2 1111.2 1321.2" stroke="#fff" stroke-opacity="0.6" stroke-width="1.5" fill="none"/><path d="M1079.7 1323.8Q1095.2 1326 1110.7 1323" stroke="#5a5648" stroke-opacity="0.22" stroke-width="1" fill="none"/><path d="M1073.45 1337Q1073.45 1327 1082.45 1326H1107.95Q1116.95 1327 1116.95 1337V1425.5Q1116.95 1434.5 1106.95 1435H1083.45Q1073.45 1434.5 1073.45 1425.5Z" fill="#c1bba2"/><path d="M1073.45 1422.5Q1095.2 1426.5 1116.95 1422.5V1425.5Q1116.95 1434.5 1106.95 1435H1083.45Q1073.45 1434.5 1073.45 1425.5Z" fill="#fff" opacity="0.22"/><path d="M1104.2 1336V1430.5" stroke="#fff" stroke-opacity="0.55" stroke-width="1.3"/><rect x="1112.45" y="1336" width="3.5" height="88.5" fill="#fff" opacity="0.22"/><rect x="1073.95" y="1336" width="3" height="88.5" fill="#3a3420" opacity="0.10"/><path d="M1075.45 1422.5Q1095.2 1426 1114.95 1422.5" stroke="#fff" stroke-opacity="0.55" stroke-width="1" fill="none"/><rect x="1144.4" y="1304.6" width="29" height="28.4" rx="3.5" fill="#d0cdc8" opacity="0.55"/><rect x="1145.4" y="1305.1" width="27" height="25.4" rx="3" fill="none" stroke="#fff" stroke-opacity="0.5" stroke-width="1"/><path d="M1142.9 1311.6Q1158.9 1313.8 1174.9 1310.8" stroke="#fff" stroke-opacity="0.6" stroke-width="1.5" fill="none"/><path d="M1143.4 1313.4Q1158.9 1315.6 1174.4 1312.6" stroke="#5a5648" stroke-opacity="0.22" stroke-width="1" fill="none"/><path d="M1142.9 1316.8Q1158.9 1319 1174.9 1316" stroke="#fff" stroke-opacity="0.6" stroke-width="1.5" fill="none"/><path d="M1143.4 1318.6Q1158.9 1320.8 1174.4 1317.8" stroke="#5a5648" stroke-opacity="0.22" stroke-width="1" fill="none"/><path d="M1142.9 1322Q1158.9 1324.2 1174.9 1321.2" stroke="#fff" stroke-opacity="0.6" stroke-width="1.5" fill="none"/><path d="M1143.4 1323.8Q1158.9 1326 1174.4 1323" stroke="#5a5648" stroke-opacity="0.22" stroke-width="1" fill="none"/><path d="M1137.65 1337Q1137.65 1327 1146.65 1326H1171.15Q1180.15 1327 1180.15 1337V1425.5Q1180.15 1434.5 1170.15 1435H1147.65Q1137.65 1434.5 1137.65 1425.5Z" fill="#b4afa8"/><path d="M1137.65 1422.5Q1158.9 1426.5 1180.15 1422.5V1425.5Q1180.15 1434.5 1170.15 1435H1147.65Q1137.65 1434.5 1137.65 1425.5Z" fill="#fff" opacity="0.22"/><path d="M1167.9 1336V1430.5" stroke="#fff" stroke-opacity="0.55" stroke-width="1.3"/><rect x="1175.65" y="1336" width="3.5" height="88.5" fill="#fff" opacity="0.22"/><rect x="1138.15" y="1336" width="3" height="88.5" fill="#3a3420" opacity="0.10"/><path d="M1139.65 1422.5Q1158.9 1426 1178.15 1422.5" stroke="#fff" stroke-opacity="0.55" stroke-width="1" fill="none"/><rect x="1209.6" y="1304.6" width="29" height="28.4" rx="3.5" fill="#dad8d5" opacity="0.55"/><rect x="1210.6" y="1305.1" width="27" height="25.4" rx="3" fill="none" stroke="#fff" stroke-opacity="0.5" stroke-width="1"/><path d="M1208.1 1311.6Q1224.1 1313.8 1240.1 1310.8" stroke="#fff" stroke-opacity="0.6" stroke-width="1.5" fill="none"/><path d="M1208.6 1313.4Q1224.1 1315.6 1239.6 1312.6" stroke="#5a5648" stroke-opacity="0.22" stroke-width="1" fill="none"/><path d="M1208.1 1316.8Q1224.1 1319 1240.1 1316" stroke="#fff" stroke-opacity="0.6" stroke-width="1.5" fill="none"/><path d="M1208.6 1318.6Q1224.1 1320.8 1239.6 1317.8" stroke="#5a5648" stroke-opacity="0.22" stroke-width="1" fill="none"/><path d="M1208.1 1322Q1224.1 1324.2 1240.1 1321.2" stroke="#fff" stroke-opacity="0.6" stroke-width="1.5" fill="none"/><path d="M1208.6 1323.8Q1224.1 1326 1239.6 1323" stroke="#5a5648" stroke-opacity="0.22" stroke-width="1" fill="none"/><path d="M1202.35 1337Q1202.35 1327 1211.35 1326H1236.85Q1245.85 1327 1245.85 1337V1425.5Q1245.85 1434.5 1235.85 1435H1212.35Q1202.35 1434.5 1202.35 1425.5Z" fill="#cdcbc7"/><path d="M1202.35 1422.5Q1224.1 1426.5 1245.85 1422.5V1425.5Q1245.85 1434.5 1235.85 1435H1212.35Q1202.35 1434.5 1202.35 1425.5Z" fill="#fff" opacity="0.22"/><path d="M1233.1 1336V1430.5" stroke="#fff" stroke-opacity="0.55" stroke-width="1.3"/><rect x="1241.35" y="1336" width="3.5" height="88.5" fill="#fff" opacity="0.22"/><rect x="1202.85" y="1336" width="3" height="88.5" fill="#3a3420" opacity="0.10"/><path d="M1204.35 1422.5Q1224.1 1426 1243.85 1422.5" stroke="#fff" stroke-opacity="0.55" stroke-width="1" fill="none"/><rect x="1270.5" y="1304.6" width="29" height="28.4" rx="3.5" fill="#dddcda" opacity="0.55"/><rect x="1271.5" y="1305.1" width="27" height="25.4" rx="3" fill="none" stroke="#fff" stroke-opacity="0.5" stroke-width="1"/><path d="M1269 1311.6Q1285 1313.8 1301 1310.8" stroke="#fff" stroke-opacity="0.6" stroke-width="1.5" fill="none"/><path d="M1269.5 1313.4Q1285 1315.6 1300.5 1312.6" stroke="#5a5648" stroke-opacity="0.22" stroke-width="1" fill="none"/><path d="M1269 1316.8Q1285 1319 1301 1316" stroke="#fff" stroke-opacity="0.6" stroke-width="1.5" fill="none"/><path d="M1269.5 1318.6Q1285 1320.8 1300.5 1317.8" stroke="#5a5648" stroke-opacity="0.22" stroke-width="1" fill="none"/><path d="M1269 1322Q1285 1324.2 1301 1321.2" stroke="#fff" stroke-opacity="0.6" stroke-width="1.5" fill="none"/><path d="M1269.5 1323.8Q1285 1326 1300.5 1323" stroke="#5a5648" stroke-opacity="0.22" stroke-width="1" fill="none"/><path d="M1262.75 1337Q1262.75 1327 1271.75 1326H1298.25Q1307.25 1327 1307.25 1337V1425.5Q1307.25 1434.5 1297.25 1435H1272.75Q1262.75 1434.5 1262.75 1425.5Z" fill="#d2d1cf"/><path d="M1262.75 1422.5Q1285 1426.5 1307.25 1422.5V1425.5Q1307.25 1434.5 1297.25 1435H1272.75Q1262.75 1434.5 1262.75 1425.5Z" fill="#fff" opacity="0.22"/><path d="M1294 1336V1430.5" stroke="#fff" stroke-opacity="0.55" stroke-width="1.3"/><rect x="1302.75" y="1336" width="3.5" height="88.5" fill="#fff" opacity="0.22"/><rect x="1263.25" y="1336" width="3" height="88.5" fill="#3a3420" opacity="0.10"/><path d="M1264.75 1422.5Q1285 1426 1305.25 1422.5" stroke="#fff" stroke-opacity="0.55" stroke-width="1" fill="none"/><rect x="1333.5" y="1304.6" width="29" height="28.4" rx="3.5" fill="#e6e6e5" opacity="0.55"/><rect x="1334.5" y="1305.1" width="27" height="25.4" rx="3" fill="none" stroke="#fff" stroke-opacity="0.5" stroke-width="1"/><path d="M1332 1311.6Q1348 1313.8 1364 1310.8" stroke="#fff" stroke-opacity="0.6" stroke-width="1.5" fill="none"/><path d="M1332.5 1313.4Q1348 1315.6 1363.5 1312.6" stroke="#5a5648" stroke-opacity="0.22" stroke-width="1" fill="none"/><path d="M1332 1316.8Q1348 1319 1364 1316" stroke="#fff" stroke-opacity="0.6" stroke-width="1.5" fill="none"/><path d="M1332.5 1318.6Q1348 1320.8 1363.5 1317.8" stroke="#5a5648" stroke-opacity="0.22" stroke-width="1" fill="none"/><path d="M1332 1322Q1348 1324.2 1364 1321.2" stroke="#fff" stroke-opacity="0.6" stroke-width="1.5" fill="none"/><path d="M1332.5 1323.8Q1348 1326 1363.5 1323" stroke="#5a5648" stroke-opacity="0.22" stroke-width="1" fill="none"/><path d="M1323.5 1337Q1323.5 1327 1332.5 1326H1363.5Q1372.5 1327 1372.5 1337V1425.5Q1372.5 1434.5 1362.5 1435H1333.5Q1323.5 1434.5 1323.5 1425.5Z" fill="#dfdfde"/><path d="M1323.5 1422.5Q1348 1426.5 1372.5 1422.5V1425.5Q1372.5 1434.5 1362.5 1435H1333.5Q1323.5 1434.5 1323.5 1425.5Z" fill="#fff" opacity="0.22"/><path d="M1357 1336V1430.5" stroke="#fff" stroke-opacity="0.55" stroke-width="1.3"/><rect x="1368" y="1336" width="3.5" height="88.5" fill="#fff" opacity="0.22"/><rect x="1324" y="1336" width="3" height="88.5" fill="#3a3420" opacity="0.10"/><path d="M1325.5 1422.5Q1348 1426 1370.5 1422.5" stroke="#fff" stroke-opacity="0.55" stroke-width="1" fill="none"/></g></g><rect x="886" y="1443" width="493" height="18.7" fill="#bdbdbd"/><g font-size="16.5" fill="#111"><text x="891" y="1457.6" textLength="25" lengthAdjust="spacingAndGlyphs">0 h</text><text x="955.5" y="1457.6" textLength="25" lengthAdjust="spacingAndGlyphs">1 h</text><text x="1023" y="1457.6" textLength="25" lengthAdjust="spacingAndGlyphs">2 h</text><text x="1087.5" y="1457.6" textLength="25" lengthAdjust="spacingAndGlyphs">3 h</text><text x="1151.4" y="1457.6" textLength="25" lengthAdjust="spacingAndGlyphs">4 h</text><text x="1215.6" y="1457.6" textLength="25" lengthAdjust="spacingAndGlyphs">5 h</text><text x="1279.5" y="1457.6" textLength="25" lengthAdjust="spacingAndGlyphs">6 h</text><text x="1343.4" y="1457.6" textLength="25" lengthAdjust="spacingAndGlyphs">7 h</text></g></g>
<defs><radialGradient id="brb" cx="0.4" cy="0.32" r="0.7" fx="0.36" fy="0.28"><stop offset="0" stop-color="#f6e6d4"/><stop offset="0.18" stop-color="#c49460"/><stop offset="0.45" stop-color="#8f5e2e"/><stop offset="1" stop-color="#6e4318"/></radialGradient></defs>
<rect x="874.5" y="1469.3" width="527.5" height="209.5" fill="none" stroke="#222" stroke-width="1.6"/>
<path d="M907.5 1678.8v5.8M973.4 1678.8v5.8M1039.3 1678.8v5.8M1105.2 1678.8v5.8M1171.1 1678.8v5.8M1237 1678.8v5.8M1302.9 1678.8v5.8M1368.8 1678.8v5.8" stroke="#222" stroke-width="1.4" fill="none"/>
<g font-size="14.5" text-anchor="middle" fill="#222"><text x="907.5" y="1701.3">0</text><text x="973.4" y="1701.3">1</text><text x="1039.3" y="1701.3">2</text><text x="1105.2" y="1701.3">3</text><text x="1171.1" y="1701.3">4</text><text x="1237" y="1701.3">5</text><text x="1302.9" y="1701.3">6</text><text x="1368.8" y="1701.3">7</text></g>
<path d="M874.5 1678.8h-5.8M874.5 1640.8h-5.8M874.5 1602.8h-5.8M874.5 1564.8h-5.8M874.5 1526.8h-5.8M874.5 1488.8h-5.8" stroke="#222" stroke-width="1.4" fill="none"/>
<g font-size="14.5" text-anchor="end" fill="#222"><text x="865" y="1683.95">0.0</text><text x="865" y="1645.95">0.2</text><text x="865" y="1607.95">0.4</text><text x="865" y="1569.95">0.6</text><text x="865" y="1531.95">0.8</text><text x="865" y="1493.95">1.0</text></g>
<path d="M1402 1652.7h5.8M1402 1600.17h5.8M1402 1547.64h5.8M1402 1495.11h5.8" stroke="#222" stroke-width="1.4"/>
<g font-size="14.5" fill="#222"><text x="1410.5" y="1657.9">0</text><text x="1410.5" y="1605.37">10</text><text x="1410.5" y="1552.84">20</text><text x="1410.5" y="1500.31">30</text></g>
<path d="M914.07 1647.31L966.83 1603.99M981.55 1596.19L1031.15 1581.56M1047.4 1576.58L1097.1 1560.73M1113.69 1557.81L1162.61 1555.86M1179.44 1553.86L1228.66 1544.05M1245.1 1539.8L1294.8 1523.96M1311.24 1519.71L1360.46 1509.9" stroke="#AE92C2" stroke-width="3" fill="none"/>
<polygon points="907.5,1646.99 908.99,1651.15 913.41,1651.28 909.91,1653.98 911.15,1658.22 907.5,1655.73 903.85,1658.22 905.09,1653.98 901.59,1651.28 906.01,1651.15" fill="#fff" stroke="#AE92C2" stroke-width="1.5"/>
<polygon points="907.5,1647.59 908.34,1649.94 910.84,1650.02 908.86,1651.54 909.56,1653.94 907.5,1652.53 905.44,1653.94 906.14,1651.54 904.16,1650.02 906.66,1649.94" fill="#AE92C2"/>
<polygon points="973.4,1592.88 974.89,1597.05 979.31,1597.18 975.81,1599.88 977.05,1604.12 973.4,1601.62 969.75,1604.12 970.99,1599.88 967.49,1597.18 971.91,1597.05" fill="#fff" stroke="#AE92C2" stroke-width="1.5"/>
<polygon points="973.4,1593.48 974.24,1595.84 976.74,1595.91 974.76,1597.44 975.46,1599.83 973.4,1598.42 971.34,1599.83 972.04,1597.44 970.06,1595.91 972.56,1595.84" fill="#AE92C2"/>
<polygon points="1039.3,1573.45 1040.79,1577.61 1045.21,1577.74 1041.71,1580.44 1042.95,1584.68 1039.3,1582.19 1035.65,1584.68 1036.89,1580.44 1033.39,1577.74 1037.81,1577.61" fill="#fff" stroke="#AE92C2" stroke-width="1.5"/>
<polygon points="1039.3,1574.05 1040.14,1576.4 1042.64,1576.47 1040.66,1578 1041.36,1580.4 1039.3,1578.99 1037.24,1580.4 1037.94,1578 1035.96,1576.47 1038.46,1576.4" fill="#AE92C2"/>
<polygon points="1105.2,1552.44 1106.69,1556.6 1111.11,1556.73 1107.61,1559.43 1108.85,1563.67 1105.2,1561.18 1101.55,1563.67 1102.79,1559.43 1099.29,1556.73 1103.71,1556.6" fill="#fff" stroke="#AE92C2" stroke-width="1.5"/>
<polygon points="1105.2,1553.04 1106.04,1555.39 1108.54,1555.46 1106.56,1556.99 1107.26,1559.39 1105.2,1557.98 1103.14,1559.39 1103.84,1556.99 1101.86,1555.46 1104.36,1555.39" fill="#AE92C2"/>
<polygon points="1171.1,1549.81 1172.59,1553.97 1177.01,1554.1 1173.51,1556.8 1174.75,1561.04 1171.1,1558.55 1167.45,1561.04 1168.69,1556.8 1165.19,1554.1 1169.61,1553.97" fill="#fff" stroke="#AE92C2" stroke-width="1.5"/>
<polygon points="1171.1,1550.41 1171.94,1552.76 1174.44,1552.83 1172.46,1554.36 1173.16,1556.76 1171.1,1555.35 1169.04,1556.76 1169.74,1554.36 1167.76,1552.83 1170.26,1552.76" fill="#AE92C2"/>
<polygon points="1237,1536.68 1238.49,1540.84 1242.91,1540.97 1239.41,1543.67 1240.65,1547.91 1237,1545.42 1233.35,1547.91 1234.59,1543.67 1231.09,1540.97 1235.51,1540.84" fill="#fff" stroke="#AE92C2" stroke-width="1.5"/>
<polygon points="1237,1537.28 1237.84,1539.63 1240.34,1539.7 1238.36,1541.23 1239.06,1543.63 1237,1542.22 1234.94,1543.63 1235.64,1541.23 1233.66,1539.7 1236.16,1539.63" fill="#AE92C2"/>
<polygon points="1302.9,1515.66 1304.39,1519.83 1308.81,1519.96 1305.31,1522.66 1306.55,1526.9 1302.9,1524.4 1299.25,1526.9 1300.49,1522.66 1296.99,1519.96 1301.41,1519.83" fill="#fff" stroke="#AE92C2" stroke-width="1.5"/>
<polygon points="1302.9,1516.27 1303.74,1518.62 1306.24,1518.69 1304.26,1520.22 1304.96,1522.61 1302.9,1521.21 1300.84,1522.61 1301.54,1520.22 1299.56,1518.69 1302.06,1518.62" fill="#AE92C2"/>
<polygon points="1368.8,1502.53 1370.29,1506.7 1374.71,1506.82 1371.21,1509.52 1372.45,1513.77 1368.8,1511.27 1365.15,1513.77 1366.39,1509.52 1362.89,1506.82 1367.31,1506.7" fill="#fff" stroke="#AE92C2" stroke-width="1.5"/>
<polygon points="1368.8,1503.13 1369.64,1505.49 1372.14,1505.56 1370.16,1507.08 1370.86,1509.48 1368.8,1508.07 1366.74,1509.48 1367.44,1507.08 1365.46,1505.56 1367.96,1505.49" fill="#AE92C2"/>
<path d="M915.05 1494.57L965.85 1533.38M982.07 1543.03L1030.63 1564.72M1046.74 1574.5L1097.76 1614.95M1114.49 1622.86L1161.81 1633.09M1180.5 1636.46L1227.6 1643.24M1246.42 1645.82L1293.48 1651.93M1312.3 1654.51L1359.4 1661.29" stroke="#8A5A2C" stroke-width="3" fill="none"/>
<circle cx="907.5" cy="1488.8" r="6.6" fill="url(#brb)"/>
<circle cx="973.4" cy="1539.15" r="6.6" fill="url(#brb)"/>
<circle cx="1039.3" cy="1568.6" r="6.6" fill="url(#brb)"/>
<circle cx="1105.2" cy="1620.85" r="6.6" fill="url(#brb)"/>
<circle cx="1171.1" cy="1635.1" r="6.6" fill="url(#brb)"/>
<circle cx="1237" cy="1644.6" r="6.6" fill="url(#brb)"/>
<circle cx="1302.9" cy="1653.15" r="6.6" fill="url(#brb)"/>
<circle cx="1368.8" cy="1662.65" r="6.6" fill="url(#brb)"/>
<path d="M1289 1545.5H1298M1315.5 1545.5H1324.5" stroke="#AE92C2" stroke-width="3"/>
<polygon points="1306.8,1539.79 1308.29,1543.95 1312.71,1544.08 1309.21,1546.78 1310.45,1551.02 1306.8,1548.53 1303.15,1551.02 1304.39,1546.78 1300.89,1544.08 1305.31,1543.95" fill="#fff" stroke="#AE92C2" stroke-width="1.5"/>
<polygon points="1306.8,1540.49 1307.64,1542.84 1310.14,1542.92 1308.16,1544.44 1308.86,1546.84 1306.8,1545.43 1304.74,1546.84 1305.44,1544.44 1303.46,1542.92 1305.96,1542.84" fill="#AE92C2"/>
<text x="1328.8" y="1552" font-size="17.5" textLength="36.5" lengthAdjust="spacingAndGlyphs" fill="#222">TOC</text>
<path d="M1287.3 1572H1322.8" stroke="#8A5A2C" stroke-width="3"/>
<circle cx="1305" cy="1572" r="6.6" fill="url(#brb)"/>
<text x="1325.3" y="1578.5" font-size="17.5" textLength="42" lengthAdjust="spacingAndGlyphs" fill="#222">C<tspan dy="3.85" font-size="10.85">t</tspan><tspan dy="-3.85">/C</tspan><tspan dy="3.85" font-size="10.85">0</tspan></text>
<text x="1138.5" y="1714.7" font-size="16.5" text-anchor="middle" textLength="64.3" lengthAdjust="spacingAndGlyphs" fill="#222">Time (h)</text>
<text x="0" y="0" font-size="16.5" text-anchor="middle" textLength="37.5" lengthAdjust="spacingAndGlyphs" fill="#222" transform="translate(840 1573) rotate(-90)">C<tspan dy="3.63" font-size="10.23">t</tspan><tspan dy="-3.63">/C</tspan><tspan dy="3.63" font-size="10.23">0</tspan></text>
<text x="0" y="0" font-size="16.5" text-anchor="middle" textLength="133" lengthAdjust="spacingAndGlyphs" fill="#222" transform="translate(1441.5 1574.5) rotate(-90)">TOC removal (%)</text>
</svg>
</body></html>
